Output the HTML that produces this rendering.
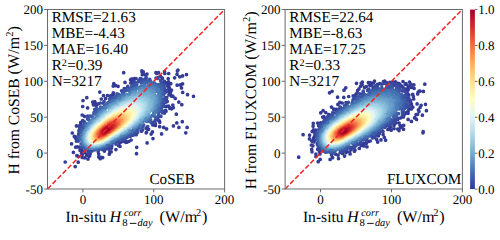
<!DOCTYPE html><html><head><meta charset="utf-8"><style>html,body{margin:0;padding:0;background:#fff;overflow:hidden}svg{display:block;text-rendering:geometricPrecision}</style></head><body><svg width="500" height="234" viewBox="0 0 500 234" font-family="Liberation Serif, serif"><style>text{fill:#000}</style><rect width="500" height="234" fill="#fff"/><defs><clipPath id="c0"><rect x="47.50" y="9.50" width="177.10" height="179.50"/></clipPath><clipPath id="c1"><rect x="285.10" y="9.50" width="177.30" height="179.50"/></clipPath><linearGradient id="cb" x1="0" y1="0" x2="0" y2="1"><stop offset="0.000" stop-color="#a50026"/><stop offset="0.050" stop-color="#bd1726"/><stop offset="0.100" stop-color="#d62f27"/><stop offset="0.150" stop-color="#e54e35"/><stop offset="0.200" stop-color="#f46d43"/><stop offset="0.250" stop-color="#f88c51"/><stop offset="0.300" stop-color="#fdad60"/><stop offset="0.350" stop-color="#fdc778"/><stop offset="0.400" stop-color="#fee090"/><stop offset="0.450" stop-color="#fff0a8"/><stop offset="0.500" stop-color="#fffebe"/><stop offset="0.550" stop-color="#f0f9db"/><stop offset="0.600" stop-color="#e0f3f8"/><stop offset="0.650" stop-color="#c5e6f0"/><stop offset="0.700" stop-color="#aad8e9"/><stop offset="0.750" stop-color="#90c3dd"/><stop offset="0.800" stop-color="#74add1"/><stop offset="0.850" stop-color="#5c90c2"/><stop offset="0.900" stop-color="#4574b3"/><stop offset="0.950" stop-color="#3a54a4"/><stop offset="1.000" stop-color="#313695"/></linearGradient></defs><g clip-path="url(#c0)" fill="none" stroke-width="3.70" stroke-linecap="round"><path stroke="#333b97" d="M193.5 96.3h0M185.8 132.8h0M187.1 127.4h0M65.2 162.0h0M187.5 94.7h0M186.5 74.6h0M182.3 121.7h0M75.2 166.6h0M178.9 127.4h0M136.5 153.7h0M182.6 75.9h0M176.8 122.9h0M178.0 70.0h0M181.8 104.7h0M182.7 92.4h0M173.4 125.9h0M177.4 70.9h0M182.6 83.8h0M78.2 162.2h0M147.1 142.9h0M179.8 76.8h0M181.5 87.9h0M161.6 133.9h0M153.0 138.6h0M123.7 72.7h0M136.7 147.3h0M177.0 74.4h0M180.4 84.9h0M178.8 102.1h0M180.3 84.8h0M166.6 128.9h0M176.3 114.2h0M83.0 100.6h0M86.8 97.7h0M100.2 158.7h0M113.8 83.7h0M177.1 85.2h0M163.7 127.4h0M174.6 77.8h0M76.9 155.7h0M73.4 152.3h0M102.7 157.6h0M78.5 156.6h0M99.8 92.1h0M88.0 159.1h0M175.2 98.4h0M82.7 106.5h0M101.0 157.4h0M151.1 134.1h0M82.2 157.4h0M113.2 86.1h0M84.7 157.8h0M173.3 107.7h0M109.3 154.2h0M168.7 73.5h0M98.7 156.9h0M152.4 131.9h0M115.7 85.6h0M164.5 71.6h0M172.8 105.0h0M141.9 70.9h0M71.6 143.8h0M159.7 126.7h0M171.5 108.8h0M172.8 96.2h0M115.9 149.6h0M111.2 151.8h0M142.0 72.0h0M72.3 133.0h0M164.8 73.5h0M143.3 71.9h0M109.8 152.0h0M89.6 156.1h0M118.1 86.3h0M120.0 146.3h0M169.9 108.4h0M146.2 132.8h0M92.7 102.0h0M82.5 154.2h0M171.3 96.1h0M125.0 82.4h0M86.6 155.3h0M146.5 132.3h0M87.6 107.9h0M103.5 95.6h0M82.2 115.0h0M169.6 107.4h0M171.5 90.1h0M158.5 72.7h0M168.2 78.6h0M170.8 83.7h0M81.5 153.2h0M75.7 147.2h0M155.9 72.6h0M131.3 79.2h0M94.7 101.6h0M76.5 125.9h0M130.5 79.8h0M98.7 154.1h0M118.7 145.7h0M128.8 141.5h0M86.6 154.5h0M126.7 142.2h0M170.6 91.6h0M142.3 74.7h0M170.4 93.1h0M156.8 73.4h0M159.8 122.3h0M131.1 140.0h0M132.8 79.2h0M125.8 142.3h0M155.4 125.5h0M168.6 106.2h0M87.8 154.4h0M74.3 136.3h0M134.5 78.5h0M147.0 74.0h0M82.3 152.5h0M168.5 81.9h0M169.8 93.7h0M148.6 129.3h0M95.2 102.9h0M169.1 84.3h0M168.4 82.5h0M126.5 141.5h0M101.3 99.0h0M107.5 95.5h0M93.4 104.8h0M145.6 74.9h0M80.0 150.3h0M136.0 78.5h0M169.3 87.5h0M90.2 153.8h0M77.4 146.9h0M168.9 94.8h0M155.4 124.2h0M104.4 151.1h0M159.1 121.1h0M166.0 111.2h0M111.5 148.1h0M154.0 125.0h0M133.4 80.4h0M113.3 92.8h0M75.3 137.8h0M159.3 120.8h0M84.4 116.3h0M82.3 151.4h0M168.8 88.9h0M160.4 76.3h0M108.8 149.1h0M147.1 128.7h0M155.2 123.6h0M75.7 136.9h0M80.7 122.7h0M165.6 110.3h0M152.8 125.0h0M164.4 113.1h0M84.7 152.2h0M84.5 152.1h0M166.5 106.4h0M166.8 83.1h0M162.4 78.2h0M167.2 101.4h0M130.8 83.0h0M167.6 86.0h0M136.2 134.7h0M120.2 142.6h0M76.4 140.9h0M158.4 120.2h0M154.9 123.0h0M133.9 81.3h0M166.9 101.4h0M104.5 150.2h0M79.7 125.6h0M122.5 141.5h0M146.6 128.2h0M105.6 98.6h0M110.5 95.8h0M124.6 140.5h0M82.7 120.7h0M81.4 149.7h0M141.5 131.2h0M146.8 128.0h0M167.6 91.3h0M140.2 78.7h0M112.1 95.1h0M146.1 128.2h0M119.2 142.7h0M113.3 94.5h0M79.2 147.0h0M81.0 124.0h0M165.6 82.9h0M96.2 105.5h0M164.4 81.3h0M166.7 97.7h0M98.4 103.8h0M98.2 151.6h0"/><path stroke="#374a9f" d="M115.9 144.1h0M88.6 152.2h0M160.9 116.3h0M77.1 141.0h0M158.0 77.6h0M163.6 111.5h0M136.7 133.5h0M142.6 129.8h0M79.6 127.7h0M165.9 102.1h0M146.3 77.6h0M166.2 98.7h0M100.4 103.0h0M147.7 126.5h0M145.9 77.8h0M163.1 112.2h0M108.0 148.0h0M105.6 149.0h0M154.7 121.7h0M166.5 90.9h0M124.2 88.6h0M141.6 79.2h0M88.7 151.9h0M127.8 86.4h0M138.6 80.6h0M80.9 125.9h0M133.8 83.0h0M133.1 135.2h0M162.4 112.7h0M87.7 116.0h0M140.4 79.9h0M110.4 97.3h0M111.6 145.9h0M111.9 145.8h0M137.6 132.3h0M132.3 84.0h0M153.0 122.4h0M78.9 130.7h0M162.8 111.4h0M156.0 78.1h0M133.6 83.4h0M121.6 90.8h0M165.3 100.1h0M135.0 82.7h0M157.3 78.5h0M162.8 111.0h0M165.9 90.5h0M123.8 139.5h0M159.5 116.3h0M163.1 82.3h0M88.3 151.4h0M130.2 136.3h0M157.3 118.6h0M151.7 123.0h0M117.0 93.8h0M104.0 101.7h0M84.2 121.6h0M165.2 97.5h0M160.6 80.4h0M156.2 119.3h0M79.4 130.4h0M78.2 141.1h0M163.9 106.3h0M155.4 119.9h0M78.0 138.5h0M121.8 140.0h0M126.0 88.6h0M94.8 109.3h0M164.1 84.9h0M102.1 149.4h0M119.2 141.1h0M145.9 79.3h0M139.8 81.3h0M78.7 133.7h0M164.7 99.5h0M140.6 81.0h0M125.7 138.1h0M143.8 79.9h0M123.4 90.6h0M85.0 149.9h0M163.5 106.3h0M164.8 88.8h0M78.8 133.7h0M98.5 150.2h0M165.0 92.8h0M109.6 99.0h0M127.0 137.3h0M91.9 151.1h0M136.7 83.0h0M124.6 89.9h0M163.3 84.5h0M80.6 129.1h0M136.3 83.3h0M78.7 134.8h0M104.9 148.1h0M162.9 84.1h0M164.3 87.5h0M163.5 104.3h0M95.6 109.6h0M103.5 103.2h0M161.4 111.2h0M134.3 132.9h0M163.4 85.5h0M116.7 141.8h0M149.7 79.4h0M96.6 108.7h0M164.4 89.8h0M111.6 98.3h0M143.7 80.7h0M87.5 118.8h0M89.4 150.7h0M109.5 145.8h0"/><path stroke="#3b56a5" d="M117.9 94.7h0M82.0 147.1h0M161.1 111.0h0M89.9 116.1h0M78.9 137.1h0M141.3 128.1h0M131.7 86.4h0M158.6 114.8h0M162.8 85.6h0M137.9 130.3h0M143.8 81.1h0M81.2 129.2h0M79.0 138.0h0M109.9 99.8h0M162.7 85.8h0M114.3 97.3h0M118.8 94.5h0M124.2 91.2h0M150.5 121.8h0M145.1 81.0h0M110.9 99.4h0M95.3 111.0h0M160.9 83.5h0M160.5 111.1h0M141.1 82.3h0M120.0 139.7h0M95.8 110.5h0M162.4 105.5h0M146.7 80.8h0M116.0 96.4h0M161.9 84.9h0M84.0 124.6h0M155.9 117.2h0M134.8 85.3h0M163.3 88.9h0M133.6 86.0h0M94.0 112.6h0M142.0 127.1h0M142.6 126.7h0M136.7 84.4h0M163.2 88.6h0M117.2 95.9h0M132.6 86.6h0M161.1 84.3h0M90.9 116.0h0M85.1 123.2h0M122.7 138.3h0M128.5 135.4h0M163.4 94.9h0M161.3 108.4h0M109.9 144.9h0M162.8 101.3h0M126.3 90.4h0M111.3 144.1h0M124.6 137.3h0M97.4 109.6h0M146.7 81.3h0M119.6 139.6h0M94.4 150.0h0M150.1 80.8h0M130.7 134.0h0M106.9 146.3h0M109.0 145.3h0M147.1 81.3h0M96.7 110.4h0M161.4 85.4h0M140.8 127.5h0M114.6 97.8h0M163.0 93.2h0M97.6 149.4h0M135.2 131.0h0M162.7 99.1h0M100.6 107.1h0M129.6 88.8h0M83.3 147.1h0M112.0 99.5h0M123.6 92.5h0M119.3 139.5h0M79.8 137.1h0M136.0 85.5h0M97.0 110.4h0M88.7 119.4h0M147.0 81.7h0M114.1 142.1h0M160.4 109.0h0M137.8 129.1h0M133.8 131.7h0M125.0 136.7h0M112.9 142.8h0M81.1 143.8h0M93.9 114.0h0M135.1 86.2h0M105.6 146.5h0M158.6 112.2h0M160.0 109.7h0M162.4 90.4h0M103.6 147.3h0M162.5 91.5h0M143.7 82.8h0M86.0 148.7h0M83.6 126.9h0M143.7 125.1h0M100.6 107.7h0M83.0 128.0h0"/><path stroke="#3f62ab" d="M122.5 93.7h0M162.3 92.0h0M146.6 82.2h0M162.1 90.3h0M144.3 82.8h0M80.1 137.2h0M162.1 92.8h0M151.3 82.0h0M107.7 145.3h0M108.1 102.7h0M140.4 126.9h0M161.0 87.3h0M118.9 96.1h0M117.6 96.9h0M81.2 132.6h0M114.6 141.3h0M107.4 145.4h0M107.0 103.5h0M116.1 97.9h0M150.6 119.8h0M119.9 138.6h0M85.6 124.4h0M85.8 124.2h0M104.5 105.3h0M80.3 139.4h0M147.0 82.6h0M130.7 89.2h0M138.7 127.9h0M160.3 86.7h0M158.4 84.5h0M127.5 134.8h0M101.3 107.8h0M158.4 111.3h0M80.4 138.7h0M161.8 93.4h0M122.5 94.2h0M82.6 145.3h0M129.8 133.4h0M154.3 82.9h0M113.4 141.9h0M159.9 86.5h0M98.4 110.5h0M86.3 148.3h0M101.6 107.8h0M107.0 103.8h0M161.6 92.7h0M159.6 108.3h0M92.2 117.0h0M124.8 136.0h0M100.9 147.8h0M95.5 149.1h0M107.3 103.7h0M160.8 89.0h0M148.7 120.8h0M154.0 83.1h0M131.1 89.4h0M129.2 90.5h0M95.8 113.4h0M104.9 146.2h0M126.7 134.9h0M111.2 101.4h0M148.0 121.1h0M160.6 103.5h0M85.8 147.8h0M82.2 144.2h0M126.6 134.9h0M161.3 95.3h0M136.2 87.0h0M161.2 94.2h0M129.0 133.5h0M158.4 110.0h0M82.9 145.1h0M139.2 126.9h0M121.2 95.5h0M85.1 126.2h0M153.9 116.0h0M117.2 98.0h0M112.2 101.1h0M156.4 84.7h0M146.9 121.4h0M160.7 91.6h0M159.5 106.7h0M160.8 97.9h0M82.8 130.5h0M155.5 84.4h0M158.0 86.1h0M120.6 137.6h0M135.8 87.7h0M99.3 110.7h0M97.4 148.3h0M158.1 109.8h0"/><path stroke="#4471b2" d="M150.5 83.7h0M112.2 101.4h0M160.4 92.4h0M103.1 107.7h0M81.2 136.6h0M144.4 84.7h0M133.1 89.2h0M160.5 95.9h0M95.9 148.5h0M113.8 100.6h0M157.7 109.9h0M113.1 101.0h0M86.0 125.6h0M134.1 129.8h0M160.3 99.2h0M110.8 142.7h0M103.2 146.4h0M160.2 100.2h0M105.3 145.5h0M86.8 147.8h0M134.3 88.8h0M141.3 85.8h0M157.4 110.2h0M81.5 135.9h0M96.4 148.3h0M160.1 99.2h0M131.7 131.2h0M116.0 139.5h0M133.2 130.2h0M120.3 96.9h0M160.1 96.5h0M81.4 137.3h0M139.9 125.7h0M103.5 107.9h0M122.6 95.6h0M89.3 148.4h0M113.7 140.7h0M104.4 145.8h0M137.8 87.5h0M131.4 90.6h0M81.6 140.1h0M154.6 85.3h0M141.0 86.3h0M137.1 87.9h0M86.5 125.5h0M125.9 134.4h0M111.7 141.9h0M157.5 87.5h0M152.0 84.9h0M124.4 135.1h0M159.8 96.0h0M159.8 95.1h0M154.1 114.1h0M157.7 87.9h0M155.9 86.3h0M155.7 112.1h0M112.4 102.0h0M125.3 134.6h0M104.3 107.6h0M159.6 99.8h0M158.6 106.0h0M83.1 144.0h0M118.2 98.6h0M124.2 95.0h0M101.1 146.8h0M143.8 85.9h0M139.4 87.3h0M103.2 108.5h0M159.5 99.2h0M158.8 104.5h0M140.5 86.9h0M128.9 132.5h0M120.4 97.4h0M137.8 88.0h0M155.6 86.6h0M159.4 93.9h0M153.9 85.8h0M81.7 137.3h0M104.6 107.6h0M99.0 112.3h0M87.2 147.4h0M85.5 127.5h0M159.4 96.3h0M152.3 115.5h0M148.6 85.3h0M140.8 124.5h0M85.9 126.9h0M149.1 118.3h0M159.0 92.4h0M134.9 89.5h0M158.6 91.2h0M113.4 101.8h0M122.6 135.8h0M148.2 85.5h0M150.6 116.9h0M159.3 97.2h0M124.5 134.8h0M121.7 96.8h0M139.9 87.5h0M141.8 86.9h0M104.5 107.9h0M88.8 123.2h0"/><path stroke="#4b7db8" d="M155.1 111.9h0M157.8 89.8h0M114.6 101.2h0M109.5 142.8h0M83.5 144.0h0M122.2 135.8h0M158.3 91.6h0M152.1 86.1h0M99.7 112.3h0M155.2 87.5h0M123.0 96.4h0M104.4 145.2h0M147.2 119.3h0M157.8 105.7h0M157.7 105.6h0M128.4 132.3h0M138.9 88.4h0M90.4 121.8h0M154.6 111.9h0M156.1 88.7h0M158.5 95.0h0M101.5 110.8h0M111.1 141.6h0M157.0 89.9h0M154.3 112.2h0M119.3 98.7h0M153.6 113.1h0M91.4 120.8h0M134.7 128.1h0M145.4 120.5h0M109.5 142.5h0M155.5 88.2h0M146.0 120.0h0M98.5 113.7h0M144.9 86.8h0M158.5 99.0h0M157.7 104.8h0M145.5 86.8h0M130.1 131.1h0M149.6 86.5h0M141.6 123.2h0M158.5 97.1h0M155.1 110.9h0M143.7 87.2h0M106.2 107.3h0M114.7 139.3h0M96.9 115.4h0M83.0 142.2h0M126.7 94.6h0M146.5 86.8h0M125.6 133.6h0M154.4 111.7h0M158.4 98.3h0M94.4 118.0h0M120.4 98.3h0M158.0 102.8h0M107.1 106.8h0M113.1 140.1h0M105.0 108.3h0M135.3 90.3h0M151.3 87.0h0M105.5 108.0h0M156.6 90.4h0M151.0 87.0h0M143.6 87.5h0M117.8 137.6h0M110.6 141.7h0M127.9 132.2h0M124.5 96.0h0M116.1 101.0h0M119.3 99.1h0M132.8 91.6h0M135.6 90.3h0M102.4 110.6h0M126.4 95.0h0M156.0 90.0h0M156.7 106.7h0M157.7 102.7h0M145.1 87.4h0M129.4 131.2h0M153.2 87.9h0M158.0 99.3h0M93.0 119.7h0M155.5 109.4h0M112.2 103.6h0M146.4 87.3h0M154.3 88.6h0M157.9 99.0h0M83.4 142.6h0M89.2 123.9h0M83.8 132.4h0M121.3 98.1h0M129.8 93.3h0M157.8 100.5h0M91.3 147.7h0M124.5 96.3h0M143.0 88.0h0M142.9 121.7h0M120.6 136.0h0M126.1 133.0h0M155.2 89.7h0M141.7 88.5h0M90.1 123.0h0M123.9 134.2h0M156.3 91.4h0M149.3 116.5h0M111.4 104.3h0"/><path stroke="#5588be" d="M119.2 136.7h0M84.5 144.1h0M136.3 126.3h0M128.8 131.3h0M152.9 88.5h0M99.3 146.6h0M86.1 145.7h0M88.6 124.9h0M112.7 103.5h0M132.2 92.5h0M141.8 88.7h0M93.8 147.6h0M141.2 122.7h0M157.3 96.0h0M125.3 133.3h0M146.6 87.9h0M93.3 147.6h0M82.8 137.9h0M91.8 121.5h0M83.5 142.1h0M109.0 106.2h0M84.7 131.0h0M140.5 89.3h0M87.1 127.1h0M157.3 100.2h0M83.5 134.2h0M83.9 142.7h0M151.8 88.7h0M90.2 147.3h0M155.6 107.4h0M111.7 104.6h0M146.9 118.0h0M117.8 100.8h0M83.8 133.4h0M90.9 147.4h0M102.9 111.2h0M97.1 146.9h0M154.3 90.7h0M143.6 88.9h0M101.2 112.7h0M141.0 89.6h0M99.3 146.3h0M93.0 120.6h0M126.4 96.0h0M117.6 101.1h0M94.7 119.0h0M99.8 114.0h0M151.7 89.4h0M83.1 139.1h0M156.6 101.9h0M88.2 126.2h0M129.1 94.7h0M133.7 127.5h0M144.4 119.6h0M156.6 101.2h0M129.3 94.6h0M126.5 132.2h0M103.2 144.8h0M94.4 119.5h0M156.6 98.3h0M156.5 98.5h0M103.9 110.7h0M145.4 118.6h0M154.2 91.8h0M92.6 121.4h0M154.5 108.2h0M84.0 134.0h0M149.3 89.4h0M155.5 105.6h0M89.5 146.9h0M94.2 147.1h0M153.1 91.0h0M92.7 121.4h0"/><path stroke="#6095c4" d="M84.8 132.1h0M141.2 121.8h0M146.3 89.5h0M97.6 146.5h0M142.3 90.0h0M107.8 142.5h0M156.0 102.4h0M114.7 138.3h0M100.5 145.7h0M133.6 93.0h0M102.6 144.9h0M156.0 97.8h0M134.4 92.7h0M151.5 90.5h0M137.3 124.6h0M100.2 114.3h0M85.2 131.5h0M154.0 92.5h0M123.1 98.4h0M104.0 111.0h0M99.2 146.0h0M83.5 137.4h0M148.8 89.9h0M153.9 92.7h0M91.5 147.0h0M99.2 115.3h0M88.4 146.3h0M101.4 113.3h0M103.0 144.7h0M83.5 138.4h0M139.5 91.1h0M153.1 92.1h0M86.6 129.2h0M133.9 93.2h0M149.9 90.4h0M112.4 105.0h0M102.9 144.7h0M127.7 96.1h0M108.5 141.9h0M100.8 114.0h0M88.9 146.4h0M87.9 146.0h0M155.7 99.4h0M150.6 90.7h0M148.8 114.9h0M118.5 101.3h0M115.1 103.4h0M90.5 124.2h0M93.1 121.5h0M147.8 115.8h0M84.2 141.7h0M154.4 94.6h0M84.7 142.7h0M101.6 145.1h0M100.1 145.6h0M148.4 90.5h0M126.6 96.9h0M109.1 107.5h0M153.6 108.2h0M84.4 134.2h0M137.3 124.2h0M154.2 106.5h0M99.1 145.9h0M111.5 105.8h0M86.0 144.4h0M149.0 90.8h0M133.3 127.1h0M135.7 92.8h0M144.3 90.6h0M102.3 112.9h0M153.4 93.5h0M152.2 110.3h0M147.9 115.4h0M111.7 105.8h0M86.7 129.6h0M135.5 93.0h0M152.9 93.4h0M127.2 131.0h0M115.1 137.7h0M116.8 102.7h0M125.2 132.2h0M150.5 91.9h0M86.9 144.9h0M152.7 93.5h0M140.8 91.6h0M85.3 132.4h0M124.6 98.3h0M84.0 139.5h0M154.7 98.0h0M91.4 146.7h0M83.9 138.3h0M98.7 145.8h0M119.2 101.5h0M91.4 123.7h0M92.2 146.7h0M88.1 145.7h0"/><path stroke="#69a0ca" d="M134.5 125.9h0M154.3 96.9h0M142.3 91.5h0M125.1 132.1h0M134.6 125.8h0M154.1 96.5h0M123.2 133.2h0M126.3 97.6h0M94.1 121.1h0M153.1 94.8h0M154.5 102.9h0M107.4 142.1h0M154.6 99.7h0M95.6 146.4h0M114.0 104.7h0M146.4 91.6h0M123.6 99.2h0M87.2 145.0h0M152.5 108.6h0M134.8 125.5h0M89.1 126.7h0M139.3 92.6h0M154.2 99.0h0M126.9 130.8h0M139.5 121.9h0M148.8 92.3h0M143.6 91.9h0M141.2 92.2h0M152.3 108.6h0M84.3 140.0h0M138.6 92.8h0M84.2 136.9h0M147.2 115.1h0M116.8 136.5h0M153.5 96.9h0M117.4 102.9h0M154.0 98.9h0M148.6 92.5h0M153.8 103.7h0M109.5 140.8h0M147.6 114.6h0M108.0 141.7h0M139.7 121.5h0M142.8 92.3h0M150.8 93.8h0M144.7 92.2h0M150.9 110.4h0M92.8 122.9h0M93.5 146.5h0M121.0 101.0h0M153.7 98.8h0M105.2 111.5h0M109.7 108.1h0M91.0 146.3h0M100.3 145.0h0M123.2 99.9h0M137.6 93.6h0M85.4 133.4h0M87.5 144.8h0M134.2 94.7h0M153.4 99.0h0M141.8 119.6h0M96.2 119.8h0M139.0 121.8h0M86.5 143.8h0M87.3 144.6h0M138.7 122.0h0M153.4 103.5h0M143.5 92.7h0M109.9 108.1h0M153.5 101.8h0M133.4 95.1h0M152.1 96.3h0M97.6 118.5h0M88.1 145.1h0M148.3 93.4h0M121.0 133.9h0M112.3 138.7h0M126.7 98.2h0M94.3 146.3h0M151.7 95.8h0M98.2 118.0h0M87.2 144.4h0M88.2 128.6h0M106.7 142.2h0M152.0 107.4h0M116.0 136.6h0M147.3 114.2h0M140.7 93.2h0"/><path stroke="#72abd0" d="M149.2 111.9h0M152.7 98.0h0M137.3 123.0h0M98.7 145.4h0M84.7 136.5h0M151.2 95.8h0M99.6 145.1h0M148.0 93.7h0M125.8 131.0h0M148.8 112.2h0M100.3 116.2h0M132.2 95.9h0M136.4 123.6h0M84.7 136.8h0M137.2 122.9h0M152.8 99.6h0M148.5 94.1h0M127.6 98.0h0M89.2 145.5h0M101.2 115.4h0M148.7 94.3h0M137.4 122.7h0M151.4 96.6h0M129.8 128.3h0M152.7 99.8h0M148.2 112.7h0M135.2 95.0h0M118.2 103.2h0M151.0 108.5h0M112.9 106.5h0M84.7 137.2h0M152.4 104.7h0M141.7 93.6h0M149.3 111.1h0M104.3 143.2h0M149.8 95.3h0M111.8 107.3h0M85.3 141.5h0M139.9 120.6h0M151.8 106.4h0M103.7 113.4h0M149.3 95.2h0M151.8 98.0h0M124.7 131.5h0M132.7 96.1h0M140.3 94.0h0M86.4 132.1h0M109.2 109.2h0M92.7 146.1h0M91.5 146.0h0M126.2 99.0h0M118.4 103.3h0M106.6 142.0h0M135.2 124.1h0M105.0 112.5h0M84.9 137.3h0M85.1 140.4h0M145.5 94.2h0M105.3 112.3h0M94.4 146.0h0M152.0 100.2h0M141.9 94.1h0M137.6 122.2h0M152.0 104.3h0M117.9 103.7h0M142.4 94.1h0M151.7 99.0h0M150.7 97.4h0M148.9 111.0h0M146.3 94.6h0M122.6 132.6h0M115.3 105.3h0M125.7 99.5h0M141.6 118.7h0M137.6 95.0h0M133.8 96.1h0M136.4 123.0h0M150.9 107.0h0M149.5 96.5h0M95.0 121.9h0M151.7 104.0h0M142.3 118.0h0M85.0 138.6h0M116.2 136.1h0M143.2 117.1h0M151.3 105.3h0M86.2 133.1h0M149.2 96.6h0M114.9 105.8h0M103.6 114.1h0M138.9 95.0h0M97.7 145.3h0"/><path stroke="#7fb6d6" d="M141.1 94.7h0M150.8 106.7h0M151.0 105.9h0M151.6 102.2h0M148.7 110.6h0M126.4 130.1h0M138.1 95.2h0M109.6 109.4h0M88.9 144.9h0M93.7 145.8h0M144.7 115.4h0M122.2 132.6h0M94.6 145.8h0M102.7 115.0h0M117.2 135.4h0M131.5 97.3h0M115.9 136.1h0M102.9 143.4h0M91.9 125.3h0M147.9 111.4h0M105.1 113.0h0M135.0 123.7h0M148.2 96.6h0M151.2 102.8h0M151.3 102.6h0M86.1 141.9h0M151.1 104.0h0M86.0 141.7h0M147.7 111.6h0M110.8 108.8h0M151.1 102.3h0M145.6 114.1h0M135.2 123.5h0M101.6 116.1h0M96.8 145.4h0M135.1 123.6h0M147.1 112.3h0M89.7 145.1h0M118.3 134.7h0M113.6 107.0h0M148.6 110.0h0M112.1 138.1h0M113.0 107.4h0M120.8 102.8h0M146.6 112.7h0M88.8 129.3h0M146.4 112.9h0M106.0 112.5h0M142.5 117.1h0M98.6 144.8h0M85.4 137.8h0M107.5 141.0h0M145.0 114.4h0M129.0 98.7h0M92.5 145.6h0M125.2 100.5h0M85.9 141.1h0M85.9 141.2h0M86.0 134.7h0M95.9 145.4h0M123.4 101.5h0M138.0 121.0h0M150.5 101.7h0M144.8 96.1h0M94.0 123.4h0M141.7 95.7h0M150.1 105.8h0M138.7 96.0h0M150.4 102.3h0M149.8 100.2h0M96.0 121.6h0M104.0 142.7h0M90.9 126.9h0M119.1 103.9h0M149.7 106.7h0M115.5 106.1h0M106.2 112.6h0M88.5 144.2h0M115.1 106.3h0M150.2 104.0h0M132.7 125.1h0M130.6 126.6h0M145.5 96.7h0M144.3 114.8h0M149.4 107.1h0M131.8 125.8h0M147.5 97.7h0M141.5 96.0h0M150.0 101.3h0M124.5 130.8h0M90.0 128.0h0M148.3 109.4h0M102.5 115.8h0M133.7 124.3h0M149.3 107.4h0M97.9 120.0h0M106.3 141.5h0M141.1 118.0h0M146.9 97.6h0M90.3 145.1h0M138.8 96.3h0M97.7 144.9h0M143.2 96.4h0M149.5 100.6h0M117.6 105.0h0"/><path stroke="#8abeda" d="M103.7 142.8h0M102.8 115.6h0M127.0 100.1h0M133.8 97.5h0M148.7 107.9h0M92.4 145.4h0M90.5 127.6h0M149.4 105.9h0M129.9 98.9h0M148.1 109.2h0M105.3 113.6h0M100.1 144.1h0M119.0 104.3h0M132.7 98.0h0M113.6 107.6h0M130.5 98.8h0M131.0 126.1h0M127.2 100.2h0M145.6 112.7h0M98.5 119.7h0M100.3 144.1h0M87.6 143.2h0M105.6 141.7h0M102.9 143.0h0M139.4 96.7h0M96.9 121.2h0M138.4 96.8h0M95.1 122.9h0M148.4 100.1h0M97.8 144.8h0M104.4 142.3h0M149.4 104.1h0M147.5 109.8h0M137.6 120.7h0M145.7 98.0h0M145.4 112.8h0M131.7 125.5h0M130.2 99.1h0M147.9 99.8h0M149.1 104.6h0M109.9 139.1h0M137.4 120.7h0M135.0 97.7h0M144.7 97.9h0M118.8 104.8h0M136.8 97.4h0M117.5 134.5h0M86.1 140.0h0M148.7 105.7h0M119.5 104.4h0M86.5 141.0h0M97.6 144.7h0M143.4 114.8h0M139.9 97.2h0M131.6 98.8h0M111.4 138.0h0M87.1 142.2h0M123.6 102.3h0M138.7 97.3h0M140.8 97.4h0M137.4 97.5h0M135.4 122.3h0M147.4 108.9h0M128.0 100.3h0M130.0 99.5h0M148.6 103.1h0M99.2 119.4h0M96.0 122.4h0M102.7 116.3h0M100.8 143.7h0M91.1 144.9h0M134.5 123.0h0M137.5 97.6h0M147.1 100.1h0M93.0 145.2h0M136.7 121.1h0M107.0 112.8h0M88.7 130.7h0M147.4 108.5h0M143.1 114.8h0M135.2 98.1h0M91.8 126.8h0M135.7 98.0h0M139.6 97.6h0M148.4 103.4h0M148.4 103.8h0M140.6 97.7h0M101.4 143.4h0M87.5 132.8h0M137.3 97.9h0"/><path stroke="#94c7df" d="M110.7 138.4h0M99.4 119.4h0M113.2 136.8h0M115.4 107.1h0M144.0 98.6h0M144.5 98.9h0M116.4 106.5h0M114.6 136.0h0M97.3 121.4h0M86.2 138.2h0M107.3 140.5h0M87.6 142.6h0M146.9 108.9h0M145.9 100.0h0M113.1 108.7h0M121.2 103.9h0M137.4 120.2h0M105.8 141.3h0M97.8 121.0h0M89.4 144.0h0M128.9 127.1h0M146.6 109.2h0M109.3 139.2h0M103.4 116.1h0M101.6 117.6h0M140.9 98.1h0M147.6 106.4h0M144.9 99.5h0M146.7 109.0h0M110.5 110.5h0M144.3 99.2h0M101.6 117.6h0M135.6 98.5h0M88.1 132.0h0M140.8 98.3h0M144.3 99.3h0M128.8 127.1h0M97.7 144.4h0M87.0 141.4h0M137.6 98.3h0M140.8 116.8h0M111.7 109.8h0M146.6 108.9h0M128.6 127.2h0M143.1 114.2h0M115.8 107.2h0M117.3 134.3h0M145.1 100.0h0M122.9 103.3h0M143.6 99.3h0M109.7 138.8h0M131.8 99.6h0M131.6 99.7h0M132.6 99.4h0M146.7 107.9h0M142.4 99.1h0M88.1 132.3h0M130.7 125.4h0M97.3 144.4h0M144.2 112.3h0M101.4 118.1h0M110.1 111.1h0M134.2 99.2h0M109.7 111.4h0M86.5 138.9h0M142.8 99.4h0M141.2 116.1h0M93.0 125.9h0M88.6 143.2h0M105.6 114.5h0M119.9 132.6h0M129.8 126.1h0M147.0 105.6h0M127.9 127.5h0M140.5 116.8h0M86.6 137.0h0M133.3 123.3h0M146.5 102.6h0M91.9 127.3h0M142.9 113.9h0M145.3 101.2h0M146.5 103.2h0M100.1 119.4h0M146.3 107.7h0M146.4 103.0h0M131.4 124.8h0M146.2 102.5h0M146.5 107.0h0M133.7 99.5h0M144.8 101.0h0M86.7 139.4h0M145.9 108.8h0M146.3 102.8h0M141.5 115.4h0M112.1 109.9h0M134.9 121.8h0M141.1 115.9h0M141.6 99.4h0M122.6 130.9h0M113.9 108.8h0M102.6 117.3h0M98.4 121.0h0M88.0 133.0h0M88.8 131.5h0M122.8 103.7h0M142.9 113.6h0M109.4 111.9h0M102.0 142.8h0M112.8 136.6h0"/><path stroke="#a1d1e5" d="M114.0 135.9h0M138.5 99.2h0M111.0 110.8h0M100.1 119.6h0M136.4 99.3h0M90.3 144.1h0M120.2 105.2h0M88.1 142.4h0M87.0 135.9h0M123.4 103.6h0M115.6 135.0h0M105.9 114.7h0M146.1 103.9h0M88.6 142.8h0M97.4 122.1h0M128.8 126.5h0M145.5 102.7h0M92.0 144.5h0M131.3 100.5h0M142.5 100.4h0M125.1 102.9h0M92.6 144.6h0M135.3 121.2h0M135.7 99.7h0M141.6 100.1h0M133.8 100.0h0M115.9 107.8h0M105.3 115.3h0M129.9 125.6h0M104.5 115.9h0M128.9 101.4h0M92.9 126.6h0M105.0 115.5h0M131.9 123.9h0M141.3 115.0h0M95.0 144.5h0M110.1 138.2h0M144.4 102.1h0M126.0 102.6h0M88.2 133.1h0M119.4 132.6h0M145.3 103.4h0M98.5 143.9h0M100.7 143.2h0M145.0 103.0h0M129.6 101.3h0M143.6 111.6h0M140.6 100.3h0M142.8 101.1h0M145.6 105.1h0M116.7 134.2h0M137.5 100.0h0M138.1 100.0h0M122.2 104.5h0M125.8 102.9h0M107.0 114.1h0M137.0 119.3h0M97.8 144.0h0M87.5 135.0h0M88.5 142.3h0M144.6 109.2h0M105.4 115.4h0M140.9 115.1h0M123.2 104.1h0M87.0 138.7h0M107.5 113.9h0M96.5 144.2h0M137.1 119.1h0M105.0 115.9h0M94.6 144.5h0M95.8 124.0h0M124.0 129.5h0M87.4 140.5h0M105.8 140.7h0M106.1 140.5h0M119.6 132.3h0M142.1 101.4h0M133.6 122.3h0M144.9 108.0h0M122.7 104.5h0M137.1 100.3h0M145.0 107.1h0M127.1 102.6h0M99.9 120.3h0M87.3 135.9h0M132.7 100.9h0"/><path stroke="#acdae9" d="M115.0 135.0h0M141.8 113.6h0M92.6 127.3h0M101.5 142.7h0M90.3 143.6h0M107.1 139.9h0M128.4 126.3h0M136.3 100.6h0M114.1 135.5h0M132.5 123.0h0M94.8 144.3h0M105.8 115.4h0M137.1 100.7h0M125.6 128.3h0M116.8 107.8h0M109.0 138.7h0M136.9 100.7h0M94.8 125.2h0M143.7 103.5h0M97.4 143.9h0M110.7 111.8h0M130.5 124.6h0M129.3 125.5h0M123.8 104.2h0M125.7 128.2h0M138.0 117.7h0M88.0 134.5h0M127.8 102.6h0M113.9 135.5h0M141.5 113.5h0M103.0 141.9h0M115.8 108.5h0M104.1 116.9h0M144.3 105.7h0M138.3 101.1h0M129.2 125.5h0M102.1 118.7h0M90.1 143.3h0M111.3 111.5h0M141.5 113.5h0M125.6 103.6h0M114.1 135.3h0M87.7 135.4h0M87.8 140.6h0M121.6 105.5h0M114.5 135.1h0M141.0 102.1h0M93.4 126.9h0M143.3 110.0h0M139.4 101.6h0M143.8 105.0h0M131.9 123.2h0M142.1 103.0h0M114.4 109.6h0M135.3 120.1h0M102.8 141.9h0M122.5 105.2h0M143.8 107.1h0M108.5 113.7h0M131.9 123.1h0M95.2 144.1h0M143.2 104.4h0M99.8 120.9h0M142.7 103.8h0M101.4 119.5h0M128.3 126.0h0M99.6 121.1h0M121.6 105.7h0M133.8 101.6h0M105.2 140.7h0M117.6 133.1h0M98.5 122.1h0M117.5 107.9h0M121.7 105.7h0M87.5 138.0h0M139.2 102.0h0M112.0 111.3h0M135.8 101.6h0M91.5 129.2h0M89.8 131.6h0M124.8 128.5h0M143.5 106.6h0M141.0 102.8h0M138.9 116.1h0M137.7 117.5h0M134.5 101.7h0M108.0 139.0h0M117.7 133.0h0M89.4 132.3h0"/><path stroke="#b6dfec" d="M87.8 139.7h0M142.4 110.7h0M136.1 101.7h0M122.4 105.5h0M125.0 128.3h0M132.5 102.1h0M88.9 133.3h0M124.5 128.6h0M95.4 144.0h0M119.0 132.2h0M120.8 106.3h0M88.1 135.4h0M139.7 102.6h0M142.2 104.3h0M140.1 102.8h0M88.5 141.2h0M134.7 101.9h0M117.3 108.2h0M139.8 102.7h0M129.6 124.8h0M117.6 133.0h0M136.7 118.3h0M140.6 103.2h0M130.9 123.6h0M141.7 111.5h0M94.6 144.0h0M121.8 105.9h0M113.1 110.9h0M129.7 102.9h0M127.5 103.6h0M96.9 123.9h0M142.8 107.1h0M139.8 103.0h0M89.5 132.6h0M130.9 102.7h0M137.6 102.5h0M102.7 141.7h0M88.1 140.1h0M137.4 102.5h0M90.9 143.2h0M142.4 108.8h0M103.5 118.2h0M128.7 103.4h0M133.0 121.6h0M98.4 122.6h0M92.9 143.8h0M109.4 113.6h0M142.5 107.1h0M92.3 128.8h0M129.8 124.3h0M139.1 103.2h0M102.0 119.5h0M134.9 119.7h0M126.7 126.7h0M139.3 103.4h0M96.9 124.1h0M106.7 115.8h0M141.7 110.3h0M121.9 130.0h0M139.6 114.2h0M141.6 105.5h0M88.6 134.8h0M99.0 122.3h0M142.1 107.9h0M124.6 105.1h0M104.8 140.6h0M108.0 138.7h0M96.5 124.6h0M110.9 112.7h0M115.4 109.8h0M137.2 117.0h0M92.7 128.6h0M121.0 106.8h0M141.9 107.5h0M97.8 123.4h0M88.7 134.7h0M103.6 118.3h0M105.6 116.8h0M89.2 133.6h0M114.6 134.5h0M141.2 105.4h0M139.8 104.2h0"/><path stroke="#c3e5f0" d="M91.2 130.4h0M115.7 109.7h0M129.6 103.6h0M133.3 103.0h0M137.5 116.5h0M118.3 132.2h0M91.0 130.8h0M140.7 105.3h0M93.1 128.2h0M121.7 130.0h0M91.6 143.3h0M100.6 142.4h0M137.7 103.5h0M139.9 104.6h0M88.4 136.0h0M132.1 121.9h0M89.6 133.0h0M134.8 119.4h0M125.7 127.1h0M97.8 123.6h0M91.6 143.2h0M118.4 108.4h0M114.3 110.8h0M129.1 124.5h0M111.7 136.0h0M139.5 113.4h0M109.0 114.4h0M106.5 116.3h0M126.8 104.7h0M88.3 137.3h0M130.7 103.7h0M130.5 103.8h0M108.3 115.0h0M91.8 143.2h0M139.4 113.4h0M132.7 103.6h0M89.9 132.8h0M138.6 104.6h0M137.6 104.1h0M139.9 105.6h0M129.9 104.1h0M130.2 104.0h0M136.7 103.9h0M92.9 143.4h0M131.2 122.4h0M131.7 122.0h0M139.1 113.6h0M140.0 105.8h0M128.0 104.6h0M88.5 136.6h0M131.3 122.3h0M140.5 110.4h0M97.0 124.6h0M129.3 104.3h0M140.3 106.7h0M90.8 131.5h0M134.3 103.8h0M90.3 142.2h0M129.7 104.3h0M131.3 104.0h0M129.5 123.8h0M117.1 132.7h0M130.8 122.7h0M140.6 109.0h0M125.8 105.4h0M140.3 107.0h0M123.3 106.5h0M137.5 104.6h0M124.2 127.9h0M140.1 110.8h0M137.9 115.0h0"/><path stroke="#cdeaf3" d="M138.8 105.5h0M137.6 115.4h0M138.7 105.4h0M138.3 105.2h0M125.2 105.8h0M137.8 115.1h0M120.6 130.3h0M88.6 138.6h0M89.9 133.2h0M128.5 124.5h0M139.8 111.2h0M120.9 107.7h0M121.7 129.6h0M125.4 105.8h0M140.0 110.5h0M107.6 115.9h0M140.1 108.2h0M113.0 112.1h0M128.7 104.8h0M94.4 127.4h0M129.6 123.5h0M136.3 116.9h0M98.1 142.8h0M131.2 104.4h0M124.6 127.5h0M132.4 104.3h0M130.3 122.9h0M128.6 104.9h0M136.5 104.8h0M126.3 105.6h0M131.6 121.6h0M137.8 105.5h0M137.4 115.2h0M126.9 105.5h0M102.6 120.0h0M96.5 125.4h0M134.8 104.5h0M137.6 105.4h0M139.8 108.7h0M124.0 106.5h0M108.6 137.8h0M108.9 115.1h0M103.0 141.0h0M123.2 128.4h0M106.2 139.3h0M134.3 118.8h0M106.1 117.2h0M112.6 135.1h0M89.2 140.3h0M136.2 105.1h0M131.7 121.4h0M103.5 119.4h0M94.5 143.2h0M106.1 139.3h0M126.0 106.0h0M133.8 104.8h0M129.3 123.5h0M129.7 105.1h0M122.1 107.5h0M110.2 114.3h0M127.6 105.6h0M114.6 111.5h0M137.3 105.9h0M131.9 121.1h0M88.9 138.6h0M127.9 105.6h0M110.9 136.0h0M138.4 112.6h0M128.4 105.5h0M88.9 138.3h0M136.2 105.6h0M90.0 141.2h0M116.9 110.2h0M119.2 109.0h0M129.3 105.3h0M90.5 132.9h0M119.4 109.0h0"/><path stroke="#d8eff6" d="M136.2 116.1h0M134.2 105.2h0M115.4 111.2h0M132.7 105.1h0M138.6 111.6h0M136.9 106.3h0M90.2 141.3h0M117.0 132.3h0M138.4 107.7h0M114.1 112.1h0M130.4 105.4h0M121.1 108.3h0M127.7 124.6h0M133.3 105.3h0M93.1 129.5h0M89.1 136.8h0M138.4 111.6h0M95.3 127.1h0M103.5 140.5h0M96.2 126.2h0M131.1 105.4h0M130.9 121.7h0M106.9 117.1h0M138.6 110.5h0M95.7 126.7h0M118.6 109.6h0M136.4 106.4h0M136.2 106.4h0M102.6 140.9h0M129.3 105.8h0M89.9 140.6h0M137.1 107.0h0M126.3 125.6h0M136.2 115.5h0M134.4 105.9h0M115.8 111.2h0M109.8 115.1h0M98.3 124.4h0M119.1 109.5h0M134.9 117.2h0M91.3 132.1h0M134.9 106.1h0M117.6 110.3h0M125.9 106.7h0M123.9 127.4h0M91.9 131.3h0M134.0 118.2h0M100.0 141.8h0M131.0 121.3h0M123.1 107.8h0M89.8 135.0h0M91.9 142.3h0M104.1 119.5h0M118.7 131.0h0M133.5 118.7h0M108.8 137.2h0M136.8 107.5h0M103.6 140.3h0M89.4 137.0h0M137.8 109.6h0M132.3 119.8h0M107.0 117.3h0M112.4 113.5h0M131.5 106.1h0M137.6 109.1h0"/><path stroke="#e2f4f4" d="M120.1 129.9h0M94.9 142.8h0M134.2 106.4h0M136.9 113.5h0M133.9 118.0h0M131.9 106.2h0M134.5 117.2h0M130.4 106.2h0M89.5 137.1h0M98.4 142.2h0M137.5 111.4h0M102.8 120.8h0M92.6 130.7h0M90.6 141.0h0M90.2 140.5h0M135.6 107.4h0M123.4 108.0h0M92.1 142.1h0M117.5 110.8h0M130.1 121.8h0M127.8 106.8h0M96.1 126.9h0M127.6 106.9h0M132.6 106.5h0M121.1 129.1h0M129.0 122.8h0M108.0 137.5h0M89.9 135.7h0M90.6 133.9h0M115.3 112.0h0M120.6 109.3h0M126.3 125.1h0M134.5 107.2h0M114.6 133.3h0M89.6 138.3h0M136.1 114.2h0M135.9 114.6h0M134.1 117.2h0M136.5 108.7h0M135.2 107.6h0M97.3 125.8h0M109.2 116.1h0M129.1 106.8h0M98.1 142.2h0M137.0 110.6h0M135.5 107.9h0M135.9 108.3h0M124.2 108.1h0M113.1 134.1h0M136.8 111.7h0M134.7 116.2h0M136.2 108.9h0M105.8 138.8h0M135.9 113.9h0M116.3 111.7h0M94.7 142.5h0M113.5 133.8h0M97.9 125.4h0M93.5 142.4h0M135.4 108.4h0M110.2 115.6h0M128.6 122.8h0M116.3 132.0h0M112.6 114.0h0M89.9 137.1h0"/><path stroke="#e9f6e8" d="M107.8 117.3h0M127.5 107.4h0M126.1 125.0h0M120.2 129.5h0M136.4 111.7h0M117.1 131.5h0M122.6 108.9h0M131.9 107.2h0M96.6 142.4h0M128.4 122.9h0M136.0 113.0h0M92.7 142.1h0M93.8 142.4h0M133.0 118.1h0M120.3 109.9h0M104.0 139.7h0M95.7 127.8h0M94.9 128.6h0M131.5 119.7h0M125.5 125.4h0M91.9 132.4h0M112.8 114.0h0M133.9 108.0h0M128.7 122.5h0M133.7 108.0h0M134.1 116.4h0M132.9 118.0h0M129.9 107.4h0M134.8 108.7h0M90.6 135.0h0M98.6 125.1h0M110.9 115.3h0M135.6 109.7h0M90.3 136.0h0M106.4 118.6h0M135.9 111.5h0M131.8 119.1h0M100.0 123.9h0M134.8 115.0h0M135.7 112.4h0M97.5 126.2h0M126.7 108.0h0M108.7 136.7h0M129.4 121.7h0M120.0 129.3h0M114.5 133.0h0M120.9 110.0h0M134.6 115.1h0M135.5 110.6h0M90.2 137.2h0M117.2 111.8h0M93.6 130.4h0M135.1 109.9h0M119.0 130.0h0M123.3 109.1h0M109.5 116.5h0M112.8 134.0h0M101.9 122.4h0M97.8 126.0h0M132.5 108.3h0M130.3 107.9h0M134.6 109.5h0M128.2 122.6h0M120.9 128.6h0M133.8 116.0h0M130.5 120.3h0M135.4 111.7h0M93.6 142.0h0M120.6 110.3h0M125.3 108.6h0M111.8 115.1h0M131.2 119.5h0M135.2 111.3h0"/><path stroke="#eff9dd" d="M100.4 123.7h0M98.8 125.1h0M101.5 122.8h0M135.1 112.7h0M108.8 117.1h0M128.9 108.1h0M112.2 134.3h0M128.9 108.1h0M97.8 126.1h0M93.7 130.5h0M109.4 116.7h0M95.9 128.0h0M104.2 120.6h0M134.6 114.1h0M121.1 110.2h0M92.2 141.3h0M122.2 109.8h0M134.7 113.7h0M114.3 113.6h0M90.4 137.0h0M90.8 139.7h0M132.8 109.0h0M99.6 141.3h0M94.3 142.0h0M110.9 115.8h0M121.8 110.0h0M122.3 127.4h0M113.3 133.5h0M115.1 132.4h0M130.1 120.4h0M91.5 140.6h0M103.9 120.9h0M90.5 137.0h0M121.0 110.4h0M91.4 140.5h0M116.0 112.8h0M131.3 119.0h0M95.8 142.0h0M133.8 115.3h0M93.4 141.7h0M130.0 108.6h0M102.2 140.2h0M134.6 112.9h0M127.6 122.8h0M134.2 114.1h0M116.1 112.8h0M107.4 118.4h0M122.5 109.9h0M133.9 114.8h0M100.4 140.9h0M111.2 134.7h0M98.8 125.5h0M134.1 114.2h0M113.5 114.3h0M93.5 131.1h0M90.6 137.5h0M125.2 124.9h0M120.0 111.0h0M112.7 114.9h0M101.2 123.4h0M121.8 110.3h0M129.4 120.9h0M116.0 131.6h0M117.3 130.8h0M134.3 112.7h0M92.4 141.1h0M127.0 123.2h0M130.4 108.9h0M134.2 111.9h0M129.5 108.9h0M104.4 139.0h0M105.5 138.4h0M130.8 119.2h0M132.3 109.6h0M109.4 117.1h0M132.8 109.9h0M121.2 128.0h0M116.5 131.2h0M94.7 129.8h0M126.9 123.3h0M97.8 126.5h0M104.6 138.9h0M132.9 116.1h0M116.2 131.4h0"/><path stroke="#f6fbd0" d="M125.4 109.4h0M94.9 141.8h0M90.8 137.9h0M122.1 110.4h0M94.7 141.8h0M90.9 138.6h0M133.9 112.7h0M99.8 141.0h0M133.3 115.0h0M92.9 132.2h0M124.0 125.7h0M133.9 113.3h0M93.9 141.7h0M133.8 113.4h0M92.3 140.8h0M91.8 140.3h0M131.6 109.7h0M103.9 139.2h0M91.4 135.0h0M94.7 141.8h0M110.9 134.7h0M92.0 140.5h0M100.8 140.6h0M110.1 135.2h0M104.7 138.7h0M132.6 116.2h0M129.3 120.6h0M133.2 111.2h0M90.9 137.2h0M120.9 111.1h0M125.9 123.9h0M95.3 129.4h0M99.1 125.6h0M109.6 135.5h0M91.8 140.2h0M107.8 136.8h0M124.7 109.9h0M129.9 109.6h0M99.7 125.1h0M97.5 127.1h0M129.1 120.7h0M92.5 133.2h0M129.2 120.5h0M92.7 132.8h0M96.3 128.3h0M131.5 110.2h0M119.7 111.7h0M132.8 115.1h0M133.2 112.6h0M129.4 120.2h0M132.4 111.0h0M111.5 134.2h0M129.7 109.8h0M133.1 113.7h0M95.3 129.6h0M100.3 124.6h0M120.3 111.5h0M98.2 141.3h0M108.7 118.1h0M132.6 111.5h0M110.1 117.1h0M124.8 124.7h0M133.0 113.7h0M123.3 126.0h0M118.9 129.3h0M132.9 112.2h0M108.7 118.1h0M123.9 125.4h0M130.6 118.6h0M123.5 110.5h0"/><path stroke="#fcfec5" d="M118.1 112.6h0M104.5 121.3h0M121.9 111.1h0M132.5 111.9h0M100.4 140.5h0M114.9 131.9h0M99.1 141.0h0M95.4 141.5h0M132.8 113.3h0M124.9 110.3h0M128.2 121.2h0M125.2 110.3h0M121.9 111.2h0M132.7 114.0h0M97.2 141.4h0M132.3 111.9h0M116.9 130.6h0M132.6 112.8h0M131.5 116.8h0M132.6 113.2h0M114.6 114.6h0M104.7 138.5h0M129.7 119.4h0M126.6 122.8h0M128.2 121.1h0M130.0 119.0h0M103.1 139.3h0M132.5 113.5h0M132.2 115.1h0M92.0 134.7h0M92.2 134.3h0M110.0 117.5h0M110.1 134.9h0M118.6 112.6h0M132.3 112.8h0M123.0 111.0h0M103.4 139.1h0M91.4 137.7h0M119.6 112.2h0M106.5 120.0h0M128.3 120.8h0M124.3 124.8h0M102.7 123.0h0M96.8 128.3h0M94.5 130.9h0M91.7 138.9h0M108.6 118.5h0M102.6 139.5h0M112.5 133.3h0M132.1 113.9h0M127.6 110.5h0M121.2 111.8h0M93.4 140.8h0M129.2 119.6h0M128.6 120.4h0M132.0 114.1h0M131.8 115.0h0M125.5 110.8h0M125.2 123.7h0M94.9 130.6h0M131.9 114.0h0M131.4 112.3h0M130.8 111.8h0M104.4 138.5h0"/><path stroke="#fffcba" d="M94.2 131.6h0M131.7 113.2h0M128.2 110.8h0M130.5 117.6h0M92.8 133.6h0M105.7 137.6h0M119.8 112.5h0M124.6 111.1h0M120.2 127.9h0M131.0 116.4h0M116.1 114.2h0M129.4 111.2h0M124.0 124.7h0M109.2 118.4h0M131.6 113.4h0M100.1 140.4h0M110.1 134.7h0M125.4 123.4h0M108.0 119.2h0M105.3 121.2h0M130.4 117.5h0M106.6 137.1h0M116.5 130.5h0M106.7 120.2h0M96.2 129.3h0M113.6 115.6h0M92.3 139.5h0M98.5 127.0h0M121.5 126.8h0M128.6 111.3h0M109.3 118.4h0M113.5 132.4h0M105.9 120.8h0M125.0 111.2h0M130.3 112.1h0M97.3 128.1h0M102.2 139.4h0M91.8 137.8h0M115.7 114.5h0M97.5 141.0h0M121.9 126.4h0M113.4 115.8h0M114.1 115.5h0M116.9 114.0h0M110.6 117.6h0M124.3 111.5h0M93.0 140.0h0M94.2 131.9h0M112.8 116.3h0M130.2 117.1h0M123.0 111.9h0M107.1 136.6h0M120.9 112.5h0M100.3 140.1h0M92.0 137.8h0M123.7 111.7h0M94.8 140.9h0M112.6 116.5h0M130.9 114.9h0M126.9 111.5h0M102.0 139.4h0M92.1 136.4h0M130.5 113.1h0M105.1 137.8h0M122.4 112.1h0M95.0 131.0h0M122.4 112.1h0M128.8 111.9h0M110.6 117.8h0M94.3 140.7h0M122.1 112.2h0M93.8 140.4h0M120.7 112.6h0M125.1 111.6h0M108.7 135.4h0M130.5 113.4h0M130.7 114.8h0"/><path stroke="#fff5af" d="M96.1 129.8h0M127.9 120.2h0M130.6 113.8h0M120.8 112.7h0M127.1 121.1h0M129.6 117.7h0M99.6 140.3h0M123.1 112.1h0M122.0 112.4h0M130.2 113.2h0M92.3 135.9h0M94.3 132.1h0M104.2 138.3h0M130.5 114.2h0M97.3 140.8h0M122.9 112.2h0M126.4 111.8h0M127.3 120.8h0M92.5 138.8h0M116.9 129.9h0M114.2 115.8h0M106.6 136.8h0M125.8 111.8h0M118.9 113.5h0M120.1 113.1h0M108.6 119.3h0M121.3 112.7h0M130.2 114.0h0M129.3 117.8h0M129.6 117.4h0M129.6 113.1h0M123.8 112.1h0M128.5 112.4h0M107.9 119.8h0M96.7 129.3h0M121.1 126.6h0M128.5 112.5h0M103.3 138.6h0M129.5 113.3h0M116.1 114.9h0M105.2 137.6h0M124.4 112.2h0M98.9 127.2h0M123.0 112.4h0M102.1 124.3h0M129.4 113.4h0M128.2 112.6h0M122.8 112.5h0M105.8 121.5h0M95.4 140.7h0M122.0 125.8h0M97.1 140.7h0M96.5 140.7h0M94.5 140.4h0M109.6 134.5h0M122.1 112.8h0M125.4 122.5h0M99.4 126.8h0M127.5 112.6h0M129.7 114.4h0M93.0 139.1h0M102.7 138.8h0M124.7 123.2h0M98.5 127.7h0M96.8 129.5h0M94.8 131.9h0"/><path stroke="#feefa6" d="M128.9 113.5h0M129.0 117.5h0M129.4 116.2h0M98.1 128.2h0M92.8 138.5h0M108.1 120.0h0M127.1 120.4h0M93.8 133.5h0M128.0 113.2h0M95.4 131.2h0M106.1 121.4h0M107.9 120.2h0M93.6 133.9h0M94.1 140.0h0M129.3 115.5h0M128.4 118.2h0M119.4 113.9h0M99.7 139.9h0M127.2 120.0h0M95.3 140.4h0M113.0 117.0h0M111.6 133.1h0M110.9 118.3h0M118.1 114.5h0M126.6 112.9h0M115.1 115.9h0M92.8 137.8h0M121.5 125.9h0M125.9 112.9h0M113.4 131.9h0M128.9 114.6h0M105.5 122.0h0M114.3 116.3h0M95.1 131.8h0M92.8 137.5h0M129.1 115.7h0M127.9 113.6h0M121.2 113.5h0M128.6 114.3h0M112.2 117.6h0M128.9 116.1h0M124.5 123.0h0M128.1 113.8h0M93.0 138.4h0M127.3 113.4h0M128.9 115.8h0M128.4 114.3h0M110.1 118.9h0M117.5 128.9h0M121.4 125.9h0M93.1 135.7h0M103.7 123.5h0M94.8 132.4h0M118.7 114.4h0M101.6 125.3h0M100.6 126.1h0M106.7 121.3h0M93.1 135.9h0M114.2 116.6h0M106.9 136.1h0M95.3 140.2h0"/><path stroke="#fee99d" d="M115.8 130.1h0M128.3 117.3h0M111.1 133.2h0M128.2 114.6h0M96.1 140.3h0M128.4 116.8h0M114.2 116.7h0M122.6 124.7h0M103.2 138.3h0M93.4 138.6h0M106.1 121.8h0M93.3 138.4h0M96.2 140.3h0M114.7 116.4h0M96.3 140.3h0M105.9 122.0h0M126.5 113.7h0M114.7 116.4h0M113.1 117.3h0M93.8 134.3h0M118.2 114.9h0M106.1 121.9h0M124.1 113.5h0M126.4 120.3h0M99.1 139.9h0M114.9 116.4h0M119.7 114.4h0M105.3 122.5h0M120.9 114.1h0M119.9 114.4h0M109.1 119.9h0M106.9 136.0h0M127.0 119.3h0M99.0 127.9h0M126.7 119.7h0M105.5 122.4h0M127.4 118.5h0M96.1 140.1h0M114.9 116.5h0M100.3 139.4h0M112.2 118.0h0M105.7 122.3h0M124.8 113.8h0M127.9 115.7h0M121.3 114.1h0M115.6 130.0h0M115.7 116.2h0M120.6 126.2h0M94.2 133.9h0M127.8 116.8h0M127.2 114.9h0M123.5 113.9h0M121.7 114.1h0M120.1 114.6h0M98.8 139.8h0M100.7 139.2h0M125.2 121.3h0M123.3 114.0h0M100.9 126.3h0M116.5 115.9h0M119.8 114.7h0M119.5 126.9h0"/><path stroke="#fee192" d="M98.2 129.0h0M121.0 114.4h0M107.8 121.0h0M122.0 124.7h0M94.3 139.1h0M122.1 114.2h0M94.8 133.2h0M124.6 114.2h0M126.7 119.1h0M120.6 125.9h0M127.0 115.3h0M121.0 114.5h0M112.0 132.3h0M93.6 136.4h0M125.5 114.4h0M125.0 121.4h0M102.5 125.1h0M104.4 123.5h0M113.7 117.4h0M93.6 136.2h0M123.2 114.3h0M112.4 132.0h0M99.7 127.5h0M125.8 120.2h0M97.2 139.9h0M103.7 124.2h0M98.9 128.4h0M113.9 117.4h0M107.3 121.5h0M125.2 114.6h0M105.2 136.8h0M97.5 129.9h0M111.8 118.6h0M125.7 120.3h0M112.3 118.3h0M126.6 115.5h0M127.0 117.0h0M112.3 118.3h0M108.8 134.3h0M111.5 132.5h0M126.1 115.2h0M124.6 114.6h0M126.6 118.4h0M106.7 122.0h0M97.5 139.8h0M100.1 139.2h0M105.1 123.2h0M100.5 127.0h0M122.7 114.7h0M94.6 134.2h0M125.9 119.5h0M123.2 114.7h0M121.1 125.2h0M96.6 139.7h0M100.6 139.0h0M109.4 120.2h0M105.2 136.7h0M121.6 114.9h0M99.9 139.2h0M121.5 124.8h0M126.1 115.8h0"/><path stroke="#fed889" d="M125.0 120.8h0M109.4 133.8h0M109.3 120.4h0M118.1 127.7h0M107.9 134.8h0M124.3 121.6h0M106.6 122.3h0M106.8 122.2h0M109.8 133.5h0M107.6 135.0h0M125.0 120.6h0M126.0 118.8h0M118.4 127.4h0M101.9 138.4h0M105.8 122.9h0M94.1 136.7h0M114.6 117.5h0M112.1 131.9h0M125.3 115.7h0M117.7 116.1h0M110.3 119.9h0M125.5 119.5h0M110.3 133.1h0M118.1 116.1h0M120.3 115.5h0M94.7 134.5h0M120.9 115.4h0M113.2 118.3h0M126.1 117.4h0M112.5 131.6h0M102.2 138.2h0M124.7 115.7h0M119.6 115.7h0M104.4 124.1h0M103.3 125.0h0M114.2 117.8h0M125.8 116.9h0M96.1 132.3h0M116.0 117.0h0M99.7 128.2h0M94.4 137.2h0M97.9 130.1h0M94.6 135.2h0M108.7 134.0h0M125.7 117.9h0"/><path stroke="#fece7f" d="M121.8 115.6h0M125.3 116.9h0M125.2 119.1h0M104.5 124.2h0M98.5 129.5h0M117.9 116.5h0M123.4 115.8h0M123.6 121.7h0M113.6 118.4h0M102.4 125.9h0M96.1 139.1h0M109.5 120.7h0M124.0 116.1h0M125.1 118.9h0M122.0 115.8h0M125.2 117.6h0M95.7 133.2h0M124.8 116.8h0M120.3 116.0h0M101.9 126.4h0M125.1 117.6h0M125.2 118.3h0M98.7 129.5h0M118.4 126.9h0M124.8 117.0h0M109.8 120.7h0M97.9 139.2h0M122.6 122.8h0M125.1 117.9h0M102.9 125.6h0M113.5 118.6h0M103.8 137.1h0M103.3 137.4h0M123.9 121.0h0M103.3 125.3h0M94.7 136.2h0M113.7 118.5h0M110.8 132.4h0M124.4 116.9h0M117.8 127.3h0M112.1 119.4h0M119.4 125.9h0M115.2 129.3h0M124.8 117.6h0M119.8 116.3h0M118.3 116.7h0M119.4 116.5h0M124.1 116.9h0M100.6 138.5h0M124.6 119.0h0M113.8 130.3h0M105.4 123.8h0M110.9 120.2h0"/><path stroke="#fdc374" d="M123.4 116.7h0M116.9 117.3h0M95.2 137.8h0M114.6 118.3h0M95.2 137.8h0M118.2 126.9h0M124.4 119.1h0M97.1 138.9h0M96.8 132.2h0M124.3 117.8h0M123.2 116.8h0M115.2 129.2h0M106.7 123.1h0M105.9 123.6h0M96.8 138.8h0M102.0 137.8h0M95.1 135.6h0M105.0 124.3h0M117.8 117.2h0M123.7 117.2h0M123.8 117.3h0M100.3 128.2h0M118.9 126.1h0M116.7 117.6h0M109.5 121.3h0M115.4 129.0h0M113.3 130.6h0M116.9 127.7h0M117.9 117.2h0M102.8 126.1h0M120.9 124.1h0M116.6 117.7h0M95.4 137.6h0M114.1 129.9h0M123.9 119.4h0M106.9 134.9h0M106.7 123.2h0M100.1 128.6h0M113.3 119.2h0M119.0 117.1h0M112.5 119.6h0M116.2 118.0h0M109.5 121.4h0M97.6 131.5h0M123.5 120.0h0M123.7 119.2h0M99.4 129.4h0"/><path stroke="#fdb96b" d="M108.3 122.2h0M106.0 135.4h0M122.3 122.0h0M107.9 134.1h0M101.3 127.6h0M120.5 124.2h0M119.3 117.2h0M110.8 120.7h0M99.0 138.6h0M120.6 124.0h0M107.1 123.1h0M116.7 118.0h0M122.5 117.7h0M99.2 138.5h0M117.5 117.8h0M98.0 131.2h0M98.1 138.6h0M96.1 137.8h0M96.6 133.3h0M101.7 127.4h0M122.8 118.1h0M121.1 123.3h0M116.4 118.2h0M116.9 118.1h0M97.1 132.5h0M95.9 137.3h0M97.4 132.1h0M119.2 117.6h0M119.4 117.6h0M99.1 138.4h0M111.0 120.9h0M98.3 130.9h0M118.8 117.7h0M119.0 125.4h0M95.9 137.1h0M122.9 119.1h0M116.5 127.6h0M98.1 131.3h0M116.6 118.3h0M97.9 138.4h0M114.2 119.2h0M114.6 129.1h0M98.3 138.4h0M100.1 138.1h0M116.6 127.5h0M106.8 123.6h0M99.0 130.2h0M106.0 135.2h0M100.7 137.9h0M95.8 136.3h0M99.2 138.3h0M104.2 136.3h0M114.7 119.1h0M108.0 122.8h0"/><path stroke="#fdaf62" d="M122.6 120.1h0M96.8 137.9h0M113.4 119.8h0M112.4 120.2h0M107.6 123.2h0M122.4 120.5h0M105.9 124.3h0M113.6 119.7h0M118.8 118.1h0M106.8 134.5h0M116.5 118.6h0M121.9 121.3h0M122.4 119.8h0M121.4 122.2h0M122.2 120.5h0M113.9 119.7h0M101.2 137.6h0M104.3 136.1h0M118.9 125.2h0M121.1 122.5h0M106.1 124.3h0M122.2 120.3h0M103.9 136.3h0M118.3 118.3h0M118.9 125.1h0M121.9 120.9h0M120.2 123.6h0M96.2 136.3h0M98.4 138.1h0M116.1 119.0h0M96.4 134.9h0M122.0 119.9h0M120.9 122.6h0M96.4 135.4h0M121.8 120.4h0M98.0 138.0h0M97.7 132.4h0M121.5 119.3h0M116.9 118.9h0"/><path stroke="#fba05b" d="M111.5 121.1h0M107.4 133.9h0M108.5 122.9h0M97.9 132.3h0M100.3 137.7h0M121.5 119.5h0M96.8 134.2h0M98.4 137.9h0M114.4 128.9h0M97.6 137.7h0M102.9 127.0h0M121.4 121.0h0M114.5 119.8h0M120.2 118.8h0M117.6 118.9h0M121.3 119.6h0M98.2 132.0h0M111.8 121.1h0M97.1 133.9h0M119.3 124.2h0M117.2 119.0h0M119.5 124.0h0M103.5 136.3h0M97.5 137.5h0M98.2 132.0h0M110.4 131.7h0M121.3 120.2h0M96.8 134.8h0M110.6 121.8h0M96.6 135.5h0M96.8 134.8h0M112.3 130.3h0M111.8 130.7h0M121.2 120.1h0M101.1 137.3h0M103.0 136.5h0M117.5 126.0h0M98.3 132.1h0M120.0 123.1h0M117.1 119.2h0M98.1 137.6h0M120.5 119.6h0M120.6 122.0h0M108.0 133.3h0M96.8 135.9h0M97.4 137.1h0M105.4 125.3h0M115.4 127.8h0M120.1 119.5h0M119.6 119.4h0M120.8 120.7h0"/><path stroke="#f99355" d="M109.2 122.8h0M107.8 123.7h0M114.6 120.1h0M110.1 122.3h0M100.8 129.3h0M110.6 131.4h0M97.6 133.4h0M105.3 125.4h0M111.0 131.1h0M114.2 120.4h0M98.1 137.4h0M120.4 120.2h0M109.8 122.6h0M102.3 136.6h0M105.5 125.4h0M111.8 121.5h0M99.6 130.7h0M100.1 130.2h0M105.1 135.1h0M98.6 137.4h0M101.3 137.0h0M104.0 126.5h0M110.7 122.1h0M98.5 137.4h0M116.0 119.9h0M104.0 126.6h0M109.1 132.3h0M97.7 133.6h0M119.8 120.3h0M116.0 127.0h0M117.3 119.8h0M113.5 129.1h0M102.3 136.5h0M113.1 121.0h0M110.6 122.3h0M120.0 121.9h0M111.4 130.6h0M117.4 119.8h0M116.6 126.4h0M118.9 123.7h0M102.5 136.4h0M113.2 121.1h0M97.7 134.0h0M109.8 122.8h0M102.2 128.2h0M111.0 130.9h0M102.4 128.1h0M119.4 122.8h0M119.9 121.0h0M97.7 134.1h0"/><path stroke="#f8864f" d="M109.7 122.9h0M108.9 123.4h0M115.7 120.3h0M100.9 129.6h0M118.4 124.2h0M116.7 120.1h0M99.0 131.9h0M110.1 131.5h0M115.9 126.9h0M101.2 136.8h0M97.5 135.2h0M111.6 122.0h0M98.1 133.5h0M115.6 120.5h0M117.4 120.2h0M98.7 137.0h0M98.5 137.0h0M118.8 120.4h0M111.5 122.1h0M98.1 136.6h0M115.5 120.6h0M119.3 121.5h0M97.7 135.1h0M98.6 132.8h0M97.9 134.4h0M105.6 134.5h0M105.5 134.5h0M97.8 135.0h0M101.2 129.6h0M112.8 121.7h0M114.5 127.8h0M99.3 131.9h0M98.0 134.7h0"/><path stroke="#f57748" d="M116.9 120.7h0M106.5 125.3h0M118.2 121.0h0M116.1 126.3h0M118.6 121.4h0M109.0 123.7h0M104.5 135.1h0M116.8 120.8h0M103.9 127.2h0M114.5 121.2h0M100.0 131.2h0M116.6 120.9h0M118.6 121.9h0M99.8 131.5h0M118.6 122.0h0M105.7 126.0h0M110.1 123.2h0M118.3 121.4h0M109.1 131.9h0M98.2 134.6h0M100.6 130.5h0M105.0 134.7h0M106.4 133.7h0M117.0 121.0h0M100.1 131.1h0M118.4 121.8h0M98.4 135.9h0M113.7 121.6h0M111.9 129.7h0M118.2 123.3h0M99.4 132.2h0M113.6 128.4h0M98.6 133.7h0M114.6 121.4h0M100.3 136.6h0M99.0 132.8h0M116.6 125.4h0M118.0 121.6h0M116.9 121.2h0M99.1 136.4h0M105.9 134.0h0M111.2 130.3h0M100.0 131.4h0M117.8 123.6h0M117.6 121.5h0M98.6 135.9h0M106.4 133.6h0M118.1 122.2h0M118.1 122.1h0M98.6 135.8h0M117.5 121.5h0M110.1 131.0h0M113.3 122.0h0M98.5 135.4h0M98.5 134.5h0M102.6 128.7h0"/><path stroke="#f36b42" d="M104.8 126.8h0M112.1 122.5h0M118.0 122.8h0M99.6 136.4h0M99.8 136.4h0M99.4 136.3h0M110.9 123.1h0M110.7 123.2h0M109.8 131.1h0M105.4 126.5h0M111.0 130.2h0M110.8 123.2h0M98.9 133.9h0M109.3 124.0h0M109.3 131.4h0M116.6 124.9h0M104.8 127.0h0M99.2 135.9h0M109.5 124.0h0M106.1 126.1h0M98.8 135.0h0M117.1 122.2h0M115.9 125.7h0M117.1 122.3h0M101.9 135.9h0M99.6 136.0h0M116.9 124.2h0M117.3 123.4h0M100.4 131.4h0M108.1 132.2h0M99.4 135.8h0M99.0 134.7h0M112.2 122.9h0M99.2 135.4h0M103.1 128.6h0M100.3 131.8h0M111.3 129.8h0M104.4 134.6h0M117.0 122.8h0"/><path stroke="#ed5f3c" d="M108.2 132.0h0M114.8 126.7h0M113.3 122.5h0M109.9 124.0h0M105.0 127.2h0M105.6 126.7h0M99.3 135.3h0M116.5 122.7h0M99.2 134.1h0M116.8 123.1h0M116.8 123.4h0M113.5 127.8h0M99.6 133.1h0M102.2 129.6h0M116.6 123.0h0M109.3 131.1h0M113.1 128.1h0M106.0 126.5h0M116.5 124.0h0M99.6 133.3h0M115.2 126.0h0M116.6 123.6h0M111.5 123.4h0M102.0 130.0h0M102.1 135.5h0M104.2 127.9h0M112.1 129.0h0M113.1 128.0h0M108.7 124.9h0M100.9 135.7h0M115.4 125.6h0M107.7 132.1h0M109.3 131.0h0M114.6 122.7h0M115.7 125.0h0M116.2 123.6h0M109.9 124.3h0M116.1 124.3h0"/><path stroke="#e65036" d="M111.0 123.8h0M107.2 132.4h0M115.2 123.0h0M104.8 134.1h0M115.7 124.9h0M100.6 132.0h0M104.8 134.1h0M104.2 134.4h0M111.6 123.7h0M109.0 131.1h0M114.3 126.7h0M114.6 123.1h0M100.6 135.4h0M101.4 130.9h0M115.7 123.8h0M114.4 123.2h0M108.7 125.2h0M114.1 123.2h0M108.1 131.7h0M114.8 123.3h0M114.5 126.2h0M115.4 124.8h0M113.1 123.4h0M111.9 128.7h0M115.5 124.4h0M115.5 124.0h0M112.3 128.4h0M110.2 124.5h0M115.0 123.5h0M113.1 127.6h0M110.3 124.5h0M114.2 123.5h0M108.4 125.5h0M115.0 123.8h0M113.3 123.6h0M112.1 123.9h0"/><path stroke="#e14430" d="M103.9 134.3h0M113.7 123.6h0M115.0 124.9h0M100.3 134.2h0M106.4 126.9h0M102.0 130.7h0M108.8 125.4h0M111.7 124.2h0M114.8 124.6h0M113.7 126.6h0M109.8 130.2h0M112.8 123.9h0M103.7 134.3h0M101.1 134.9h0M110.9 124.5h0M108.8 131.0h0M114.1 124.0h0M104.0 128.8h0M109.9 125.0h0M101.0 134.8h0M114.2 124.4h0M110.0 129.9h0M114.2 125.5h0M104.4 133.8h0M108.7 130.9h0M107.0 126.8h0M100.9 132.9h0M104.4 128.6h0M109.2 130.5h0M114.0 124.5h0M113.1 124.3h0"/><path stroke="#db382b" d="M101.2 134.4h0M110.5 125.0h0M107.3 131.8h0M103.4 134.2h0M103.9 129.2h0M107.9 131.3h0M113.5 125.9h0M108.0 131.2h0M104.1 129.1h0M102.4 131.0h0M113.5 125.7h0M102.1 131.4h0M108.0 126.4h0M105.7 127.9h0M101.5 134.1h0M113.4 125.5h0M113.3 125.3h0M112.2 127.5h0M112.3 127.3h0M106.3 127.6h0M101.4 133.8h0M102.8 134.1h0M101.9 134.1h0M101.8 134.1h0M102.8 130.6h0M108.4 130.8h0M105.9 132.5h0M103.9 129.5h0"/><path stroke="#d22b27" d="M112.9 125.3h0M101.6 133.7h0M104.4 133.5h0M103.9 129.6h0M102.4 131.2h0M103.3 130.2h0M110.9 125.4h0M111.2 125.3h0M105.7 132.6h0M109.9 125.8h0M112.3 127.0h0M101.7 132.7h0M105.6 128.3h0M101.7 133.2h0M112.4 125.5h0M110.0 125.8h0M105.9 132.5h0M111.3 128.1h0M106.4 132.0h0M111.7 127.6h0M110.1 125.9h0M107.2 131.4h0M102.1 132.6h0M103.9 133.4h0M109.3 129.8h0M108.9 126.5h0M102.4 133.6h0"/><path stroke="#c82227" d="M109.3 126.4h0M111.8 126.9h0M102.3 132.9h0M111.7 127.0h0M111.2 126.1h0M103.1 133.5h0M105.8 128.5h0M106.7 127.9h0M108.5 126.9h0M109.9 126.3h0M111.3 126.3h0M108.5 127.0h0M110.5 126.3h0M111.3 127.4h0M105.7 128.7h0M103.0 133.3h0M104.4 129.7h0M106.8 128.0h0M102.7 133.0h0M111.4 126.7h0M104.7 129.6h0M110.9 127.7h0M110.4 128.3h0M103.1 131.5h0M109.2 126.9h0M105.2 129.2h0"/><path stroke="#be1827" d="M110.6 127.8h0M107.7 127.7h0M106.8 128.2h0M108.5 127.3h0M104.3 132.7h0M103.4 132.9h0M104.3 132.7h0M104.0 130.5h0M110.5 127.6h0M103.3 132.6h0M103.3 132.4h0M103.4 131.9h0M106.0 129.0h0M108.5 127.6h0M109.4 128.8h0M106.4 131.3h0M109.7 127.6h0M107.0 130.8h0M107.2 130.6h0"/><path stroke="#b30d26" d="M108.7 129.3h0M107.2 128.5h0M107.9 129.9h0M104.1 131.7h0M104.2 132.0h0M106.1 129.3h0M104.1 131.7h0M108.3 128.2h0M107.4 128.6h0M106.8 129.0h0M105.8 129.6h0M104.4 131.8h0M104.4 131.6h0M108.4 128.6h0M105.2 131.6h0M104.9 131.7h0M108.4 128.9h0"/><path stroke="#a90426" d="M107.1 129.0h0M108.1 128.9h0M104.8 131.3h0M107.8 129.2h0M105.0 131.0h0M105.9 130.3h0M106.1 130.3h0M106.0 130.6h0"/></g><line x1="47.50" y1="189.00" x2="224.60" y2="9.50" stroke="#f42424" stroke-width="1.5" stroke-dasharray="5.0 2.2"/><rect x="47.50" y="9.50" width="177.10" height="179.50" fill="none" stroke="#6a6a6a" stroke-width="1"/><text x="42.90" y="14.10" font-size="13" text-anchor="end">200</text><text x="42.90" y="50.00" font-size="13" text-anchor="end">150</text><text x="42.90" y="85.90" font-size="13" text-anchor="end">100</text><text x="42.90" y="121.80" font-size="13" text-anchor="end">50</text><text x="42.90" y="157.70" font-size="13" text-anchor="end">0</text><text x="42.90" y="193.60" font-size="13" text-anchor="end">-50</text><text x="82.92" y="203.80" font-size="13" text-anchor="middle">0</text><text x="153.76" y="203.80" font-size="13" text-anchor="middle">100</text><text x="224.60" y="203.80" font-size="13" text-anchor="middle">200</text><path d="M44.10 9.50H47.50M44.10 45.40H47.50M44.10 81.30H47.50M44.10 117.20H47.50M44.10 153.10H47.50M44.10 189.00H47.50M82.92 189.00V192.40M153.76 189.00V192.40M224.60 189.00V192.40" stroke="#6a6a6a" stroke-width="1" fill="none"/><text x="51.70" y="22.20" font-size="15.2">RMSE=21.63</text><text x="51.70" y="38.10" font-size="15.2">MBE=-4.43</text><text x="51.70" y="54.10" font-size="15.2">MAE=16.40</text><text x="51.70" y="70.00" font-size="15.2">R</text><text x="61.80" y="65.70" font-size="10">2</text><text x="67.30" y="70.00" font-size="15.2">=0.39</text><text x="51.70" y="86.00" font-size="15.2">N=3217</text><text x="195.00" y="183.90" font-size="15.2" text-anchor="end">CoSEB</text><text x="65.60" y="221.90" font-size="15.6">In-situ</text><text x="109.60" y="221.90" font-size="16.2" font-style="italic">H</text><text x="124.00" y="216.40" font-size="10.2" font-style="italic">corr</text><text x="122.30" y="226.00" font-size="10.7">8</text><rect x="129.80" y="222.9" width="6.6" height="0.9" fill="#000"/><text x="137.60" y="225.60" font-size="10.4" font-style="italic">day</text><text x="159.60" y="221.90" font-size="16.2">(W/m</text><text x="196.00" y="216.30" font-size="10.5">2</text><text x="201.90" y="221.90" font-size="16.2">)</text><text transform="translate(18.60 100.3) rotate(-90)" text-anchor="middle" font-size="15.6">H from CoSEB <tspan font-size="16.2">(W/m</tspan><tspan font-size="10.5" dy="-5.6">2</tspan><tspan font-size="16.2" dy="5.6">)</tspan></text><g clip-path="url(#c1)" fill="none" stroke-width="3.70" stroke-linecap="round"><path stroke="#333b97" d="M423.0 132.8h0M423.2 131.7h0M298.7 157.2h0M329.5 92.8h0M332.1 91.3h0M424.8 84.2h0M426.4 110.7h0M423.4 91.4h0M425.5 104.3h0M422.4 115.2h0M303.1 134.7h0M345.8 87.8h0M344.0 90.2h0M403.6 129.3h0M416.5 119.5h0M318.2 161.7h0M416.3 119.0h0M419.9 91.2h0M419.3 91.1h0M421.1 105.3h0M399.0 130.6h0M337.6 97.2h0M385.6 140.2h0M411.4 121.4h0M356.5 83.3h0M417.6 114.3h0M420.1 107.5h0M419.0 111.5h0M418.2 92.0h0M414.6 117.9h0M413.9 84.8h0M416.1 114.7h0M400.5 127.6h0M418.4 109.9h0M403.7 125.3h0M320.2 159.4h0M417.7 93.9h0M401.7 126.4h0M320.7 112.8h0M323.1 110.7h0M397.7 129.0h0M315.9 156.5h0M312.0 151.8h0M362.4 82.2h0M409.5 82.0h0M414.1 88.3h0M361.2 83.3h0M410.9 84.2h0M313.3 123.3h0M381.0 139.9h0M311.7 149.4h0M377.7 142.1h0M384.3 137.3h0M338.5 158.6h0M417.1 103.9h0M309.6 135.2h0M309.5 138.9h0M400.0 125.3h0M343.8 97.4h0M408.1 119.4h0M315.9 154.1h0M330.1 159.4h0M350.1 154.0h0M344.6 156.1h0M362.1 84.6h0M331.5 107.1h0M411.4 87.4h0M367.0 146.8h0M394.1 128.6h0M313.1 126.2h0M311.4 145.0h0M360.5 86.3h0M391.1 130.2h0M368.4 82.6h0M325.8 112.6h0M354.4 151.2h0M339.8 102.4h0M312.2 131.5h0M403.0 81.5h0M406.0 83.7h0M374.5 81.1h0M332.6 157.7h0M370.1 82.7h0M348.7 96.5h0M355.0 150.2h0M408.0 85.9h0M311.8 141.1h0M408.6 86.9h0M359.3 148.4h0M399.1 123.0h0M358.9 88.9h0M413.3 96.4h0M370.4 82.9h0M412.7 94.4h0M312.9 145.8h0M338.0 104.3h0M337.9 104.4h0M413.7 99.0h0M376.7 139.4h0M313.4 129.9h0M405.2 84.2h0M363.9 146.0h0M349.6 152.0h0M383.1 134.4h0M357.6 90.5h0M369.3 84.1h0M322.7 117.1h0M412.8 107.2h0M373.2 82.8h0M373.6 82.6h0M313.8 130.2h0M320.0 153.9h0M412.4 107.6h0M317.7 123.1h0M323.8 116.6h0M394.1 125.3h0M346.1 152.6h0M411.4 109.0h0M333.7 109.2h0M338.1 155.2h0M364.4 87.3h0M389.4 128.5h0M366.3 86.5h0M342.2 103.0h0M387.9 129.5h0M411.8 106.9h0M408.2 89.8h0M408.1 113.3h0M364.7 87.6h0M390.8 127.0h0M366.4 143.3h0M342.5 153.4h0M361.4 145.5h0M384.7 81.2h0M369.9 85.6h0M357.2 92.9h0M353.2 95.9h0M407.9 90.2h0M313.5 138.2h0M395.7 122.9h0M370.2 141.0h0M403.4 117.0h0M313.9 141.9h0M324.0 117.9h0M383.5 81.6h0M372.0 85.0h0M378.4 135.8h0M411.4 104.0h0M395.4 81.9h0M351.0 149.6h0M406.7 89.0h0M411.2 105.2h0M318.8 123.6h0M356.0 94.2h0M319.4 151.7h0M346.6 151.3h0M403.6 116.2h0M368.4 141.5h0M410.7 104.8h0M399.7 84.0h0M354.0 147.8h0M328.8 114.5h0M407.4 112.2h0M398.2 83.4h0M393.5 82.1h0M410.7 102.3h0M328.9 114.6h0M408.2 110.9h0M407.0 112.4h0M397.5 83.4h0M383.0 131.6h0M315.8 130.2h0M331.6 155.0h0M398.0 83.6h0M386.1 82.3h0M319.8 151.5h0M360.9 144.6h0M408.9 109.2h0M410.3 100.3h0M395.9 83.0h0M354.5 96.2h0M336.0 109.4h0M354.1 147.4h0M317.7 149.2h0M379.7 83.6h0M314.9 133.5h0M400.7 117.8h0M398.4 84.0h0M374.3 137.5h0M408.8 94.9h0M406.6 112.3h0M400.6 85.3h0M377.5 84.4h0M389.8 82.4h0M408.8 95.2h0M363.8 143.1h0M314.6 136.3h0M317.9 149.2h0M382.8 131.3h0M378.6 134.4h0M407.2 92.1h0M405.0 113.8h0M401.6 86.1h0M335.5 154.1h0M314.6 139.8h0M391.7 82.7h0M318.6 125.6h0M346.0 102.6h0M408.6 95.4h0M314.8 140.1h0M404.5 88.8h0M403.0 87.4h0M397.6 119.6h0M409.8 102.1h0M336.8 109.3h0M383.9 83.2h0M320.7 122.9h0M367.2 141.1h0M379.3 133.5h0M340.1 107.0h0"/><path stroke="#374a9f" d="M372.5 138.0h0M375.7 85.5h0M332.8 112.7h0M383.4 83.5h0M392.2 123.5h0M343.8 151.3h0M409.5 101.6h0M374.2 136.9h0M325.9 118.0h0M391.3 83.1h0M352.7 147.4h0M352.3 147.5h0M327.9 116.5h0M387.2 83.2h0M375.4 136.0h0M324.9 118.9h0M395.9 84.1h0M319.9 124.5h0M354.1 97.6h0M363.2 91.2h0M342.8 151.5h0M399.2 85.6h0M408.7 98.0h0M381.7 84.2h0M408.9 98.9h0M340.2 152.4h0M382.3 130.9h0M402.4 115.1h0M386.5 83.5h0M341.7 151.8h0M398.2 118.4h0M394.9 121.0h0M315.7 133.6h0M351.8 147.5h0M389.0 125.6h0M408.4 106.5h0M355.7 145.8h0M387.3 83.6h0M359.9 93.8h0M390.3 124.3h0M366.5 140.7h0M403.6 89.6h0M406.6 94.0h0M373.2 136.8h0M404.9 91.4h0M392.9 84.2h0M351.1 147.5h0M374.7 135.8h0M348.3 102.3h0M319.3 126.3h0M373.0 87.4h0M350.3 147.8h0M368.5 89.3h0M399.1 86.5h0M359.0 144.0h0M340.5 107.7h0M403.2 89.7h0M393.0 121.7h0M342.6 151.0h0M368.9 89.2h0M338.1 109.6h0M406.7 95.2h0M347.2 149.0h0M377.3 86.4h0M357.7 144.3h0M395.8 85.5h0M394.2 120.4h0M394.4 120.2h0M353.1 99.6h0M331.7 114.9h0M377.7 133.1h0M323.4 121.8h0M406.9 97.0h0M403.1 112.6h0M386.9 125.9h0M367.6 90.4h0M363.3 92.7h0M375.0 87.6h0M385.0 127.3h0M325.3 120.3h0M394.9 119.4h0M379.6 131.3h0M357.3 97.0h0M344.5 105.8h0M331.7 153.1h0M373.4 88.4h0M319.9 148.9h0M407.1 104.3h0M317.4 144.7h0M341.2 108.1h0M388.3 124.5h0M405.6 95.2h0M355.3 98.6h0M402.5 90.8h0M360.5 142.5h0M331.7 115.4h0M368.5 90.5h0M334.1 152.7h0M377.5 87.3h0M332.1 115.2h0M346.5 104.7h0M360.3 95.3h0M403.1 111.6h0M335.2 112.9h0M331.1 152.9h0M405.8 107.4h0M366.7 139.2h0M331.5 115.8h0M325.4 152.1h0M318.5 146.4h0M399.5 88.7h0M403.2 111.2h0M323.0 150.9h0M390.7 85.8h0M347.7 147.9h0M362.8 93.8h0M330.9 116.3h0M406.1 98.3h0M366.9 139.0h0M402.3 112.1h0M406.6 100.7h0M361.2 95.0h0M317.3 143.4h0M386.9 85.9h0M392.7 86.2h0M333.6 152.5h0M384.5 126.9h0M319.6 147.9h0M356.5 143.8h0M349.4 147.0h0M324.1 122.2h0M345.1 106.0h0"/><path stroke="#3b56a5" d="M348.3 147.4h0M322.2 124.4h0M375.8 133.3h0M317.0 135.5h0M355.7 144.1h0M358.5 97.0h0M391.2 86.3h0M316.9 136.5h0M318.8 129.7h0M324.9 151.5h0M341.7 108.5h0M357.2 98.1h0M404.4 108.5h0M345.9 148.4h0M359.4 96.7h0M396.6 88.0h0M330.9 152.4h0M396.7 88.0h0M326.9 152.0h0M405.1 106.8h0M332.0 116.0h0M404.9 106.9h0M388.9 86.5h0M404.6 96.4h0M374.1 134.1h0M391.6 120.5h0M327.7 152.0h0M379.7 130.0h0M402.5 110.6h0M344.6 148.7h0M332.7 115.8h0M399.7 90.3h0M387.6 123.7h0M321.5 125.9h0M404.9 106.4h0M381.8 87.5h0M347.2 147.5h0M405.4 103.7h0M344.8 106.9h0M336.9 112.7h0M389.9 121.7h0M352.7 101.7h0M317.2 139.1h0M373.2 90.1h0M340.6 150.1h0M377.4 88.8h0M317.9 133.4h0M398.5 89.7h0M317.6 135.4h0M390.8 87.2h0M356.8 143.0h0M388.9 122.3h0M376.9 131.7h0M359.8 97.1h0M374.7 133.3h0M357.4 98.7h0M396.2 116.2h0M371.6 90.8h0M322.0 125.6h0M372.4 90.6h0M318.0 133.5h0M383.0 127.0h0M375.9 89.5h0M332.0 151.9h0M404.8 99.7h0M387.5 123.4h0M324.4 150.7h0M389.2 121.9h0M370.4 135.9h0M322.2 149.3h0M356.7 142.9h0M373.3 90.4h0M404.9 100.7h0M323.5 124.0h0M328.3 119.6h0M363.6 94.9h0M391.6 119.8h0M364.5 139.1h0M317.8 135.0h0M384.4 125.7h0M404.8 100.9h0M371.4 91.3h0M361.2 96.5h0M398.5 113.6h0M339.3 111.3h0M389.0 121.8h0M339.6 111.2h0M344.5 148.2h0M356.9 99.5h0M378.0 130.4h0M387.0 87.8h0M320.7 128.1h0M362.4 140.0h0M319.1 131.4h0M353.3 144.1h0M388.0 122.5h0M376.8 131.2h0M392.1 88.2h0M372.4 134.3h0M377.6 130.7h0M398.6 91.0h0M388.6 121.9h0M379.6 89.1h0M390.2 88.0h0M318.7 132.7h0M352.2 102.9h0M404.3 102.5h0M369.6 92.4h0M402.1 95.0h0M324.1 123.8h0M381.2 88.8h0M329.3 119.2h0M326.5 121.6h0M372.3 134.2h0M374.5 90.6h0M364.9 94.7h0M382.0 127.2h0M325.1 122.8h0M404.0 104.2h0M387.3 88.2h0M403.1 97.3h0M317.8 139.0h0M386.2 88.3h0M398.4 91.4h0M377.0 90.1h0M390.9 88.5h0M328.1 151.3h0M401.1 94.1h0M318.0 139.8h0M403.0 106.7h0M403.5 99.2h0M388.7 121.4h0M397.2 90.9h0M361.5 97.0h0M318.4 134.9h0"/><path stroke="#3f62ab" d="M318.5 134.5h0M345.2 107.7h0M395.7 115.2h0M339.4 111.9h0M319.5 145.1h0M318.1 137.8h0M372.1 92.0h0M403.5 101.4h0M326.6 150.8h0M402.1 107.8h0M318.3 141.0h0M359.1 98.8h0M403.4 100.3h0M326.8 150.8h0M318.1 137.3h0M337.5 113.5h0M343.0 148.3h0M329.5 151.2h0M367.5 136.6h0M375.8 131.3h0M372.7 133.4h0M378.1 129.5h0M357.9 99.8h0M348.1 106.1h0M368.8 135.8h0M335.0 150.7h0M394.8 90.3h0M403.0 100.5h0M375.1 91.3h0M393.4 116.8h0M318.9 134.0h0M396.5 91.3h0M402.9 104.1h0M333.8 150.8h0M378.9 90.5h0M324.8 149.8h0M399.9 94.5h0M366.0 137.2h0M341.7 148.5h0M345.9 107.8h0M320.3 130.4h0M396.4 113.7h0M391.0 89.7h0M402.7 101.7h0M322.6 148.4h0M380.6 90.2h0M348.2 106.4h0M401.4 107.4h0M330.5 119.1h0M340.5 111.7h0M358.8 99.6h0M400.1 95.1h0M374.9 131.5h0M400.9 108.0h0M332.3 150.8h0M383.6 89.9h0M358.7 99.8h0M394.5 91.1h0M339.2 112.8h0M335.8 150.2h0M398.2 93.4h0M393.7 90.9h0M387.5 121.4h0M400.5 96.2h0M331.4 118.6h0M394.1 115.4h0M366.1 95.5h0M344.6 109.1h0M330.9 119.1h0M339.5 149.0h0M368.3 94.6h0M385.5 90.1h0M340.9 148.5h0M322.7 127.1h0M382.9 125.0h0M382.5 90.5h0M322.8 127.0h0M322.0 147.4h0M346.6 146.1h0M320.0 144.4h0M337.5 114.3h0M321.1 129.8h0M400.5 107.5h0M401.8 101.9h0M353.7 103.4h0M386.5 90.3h0M374.5 131.3h0M332.6 118.1h0M396.0 92.6h0M398.5 94.6h0M319.0 136.4h0M331.6 118.8h0M339.4 113.0h0M356.3 101.9h0M319.0 140.2h0M318.9 138.1h0M352.7 143.1h0M399.4 108.8h0M384.3 123.5h0M383.9 90.7h0M397.6 94.1h0M352.1 104.6h0M336.2 149.8h0M400.6 98.4h0M400.7 98.6h0M366.6 95.8h0M364.7 96.8h0"/><path stroke="#4471b2" d="M347.8 107.4h0M356.7 101.8h0M323.2 126.9h0M398.5 95.4h0M394.4 92.3h0M372.9 93.4h0M398.7 95.6h0M393.9 92.2h0M338.8 113.7h0M401.1 103.2h0M324.6 149.0h0M342.2 147.7h0M319.9 133.4h0M386.6 90.9h0M319.7 134.0h0M388.5 119.6h0M354.1 103.6h0M382.7 91.3h0M398.3 95.6h0M392.1 91.7h0M388.8 91.1h0M360.6 139.1h0M378.1 92.2h0M340.9 112.3h0M396.1 93.7h0M377.4 128.7h0M332.2 150.3h0M397.5 94.9h0M388.8 91.3h0M375.0 93.1h0M389.0 118.9h0M400.7 101.9h0M396.1 93.9h0M337.7 114.8h0M337.6 114.9h0M322.6 147.4h0M360.2 100.0h0M389.6 91.5h0M340.8 148.0h0M320.9 145.2h0M328.0 122.3h0M360.2 100.0h0M381.8 91.8h0M396.2 94.3h0M400.3 104.3h0M353.2 142.4h0M400.0 105.3h0M387.2 120.4h0M324.2 126.1h0M379.7 126.6h0M324.9 125.4h0M354.3 141.9h0M399.8 105.6h0M339.9 113.3h0M385.5 121.8h0M357.1 140.6h0M320.1 143.2h0M380.3 92.2h0M341.0 112.6h0M381.7 92.0h0M391.5 92.3h0M384.8 122.4h0M341.5 147.6h0M325.9 124.4h0M346.7 108.7h0M388.0 119.5h0M398.9 98.1h0M365.0 136.5h0M322.6 128.5h0M377.9 92.8h0M388.6 118.9h0M377.3 93.0h0M335.1 117.1h0M393.0 93.0h0M399.5 99.6h0M343.6 110.8h0M381.9 124.6h0M382.9 92.0h0M327.0 149.5h0M359.4 139.3h0M399.8 101.3h0M366.4 96.9h0M398.9 106.8h0M395.8 94.9h0M385.3 121.6h0M324.0 126.7h0M319.5 138.4h0M320.9 144.7h0M323.3 127.6h0M322.5 128.9h0M364.5 136.5h0M349.2 107.3h0M380.1 125.9h0M325.5 148.8h0M386.5 92.3h0M370.5 95.4h0M338.2 148.6h0M319.8 140.7h0M390.7 93.0h0M398.7 106.0h0M320.0 135.3h0M397.3 97.1h0M394.0 94.4h0M370.3 132.9h0M398.8 99.9h0M397.4 108.6h0M337.0 148.9h0M391.0 93.2h0M321.2 144.8h0M339.3 114.3h0M320.1 141.8h0M322.5 129.2h0M321.1 132.0h0M331.2 149.8h0M327.9 123.0h0M393.3 113.5h0M363.7 98.8h0M399.0 103.1h0M398.4 99.9h0M398.6 100.6h0M343.6 146.4h0M395.9 96.3h0M333.6 118.6h0M396.0 110.2h0M320.3 134.4h0M398.6 105.2h0M388.2 93.0h0M398.6 105.1h0"/><path stroke="#4b7db8" d="M394.7 111.7h0M398.4 100.2h0M327.0 149.1h0M386.9 119.6h0M355.1 141.0h0M338.0 148.4h0M396.7 97.7h0M368.6 133.7h0M397.5 107.4h0M321.1 132.2h0M326.1 148.8h0M354.8 141.0h0M398.2 100.9h0M348.8 143.8h0M388.5 93.4h0M393.5 95.1h0M392.4 94.6h0M389.7 116.7h0M323.4 147.1h0M342.2 146.8h0M366.2 97.9h0M333.1 119.3h0M385.0 121.0h0M323.0 146.6h0M343.9 146.0h0M375.3 128.9h0M379.0 94.0h0M393.6 95.6h0M389.8 94.0h0M375.0 129.2h0M395.0 96.8h0M381.8 93.7h0M351.6 106.5h0M378.2 126.6h0M384.0 93.6h0M352.9 105.8h0M346.4 109.8h0M321.1 143.7h0M365.4 98.5h0M397.8 102.2h0M330.3 121.5h0M388.0 118.0h0M374.3 129.5h0M334.0 149.1h0M383.3 122.3h0M325.4 126.1h0M320.5 134.8h0M387.8 93.9h0M379.0 94.2h0M320.9 133.6h0M326.2 125.2h0M394.5 96.8h0M352.7 141.7h0M366.0 98.4h0M367.2 97.8h0M321.6 144.5h0M389.1 116.8h0M334.7 149.0h0M328.1 149.1h0M396.7 99.7h0M337.5 148.3h0M394.5 97.0h0M348.2 108.8h0M387.8 118.1h0M328.4 149.1h0M361.7 100.7h0M397.3 101.6h0M333.4 119.3h0M358.1 102.8h0M391.6 95.3h0M346.8 144.5h0M348.9 108.4h0M320.2 138.2h0M369.3 132.8h0M376.3 127.8h0M395.6 108.7h0M320.2 138.9h0M366.2 134.7h0M363.7 99.8h0M322.5 145.7h0M325.6 126.0h0M374.9 128.8h0M378.2 94.8h0M353.1 106.0h0M360.3 101.7h0M381.7 123.3h0M396.5 106.3h0M331.4 121.0h0M392.9 112.1h0M385.9 94.5h0M390.0 115.3h0M333.2 149.0h0M324.8 147.5h0M385.8 119.5h0M394.3 110.1h0M373.9 96.0h0M396.1 100.7h0M395.5 99.7h0M321.2 133.8h0M375.4 95.7h0M362.7 136.4h0M394.9 99.0h0M381.7 123.1h0M320.8 135.1h0M358.4 138.7h0M395.7 100.4h0M385.1 120.0h0M335.9 117.9h0M347.2 144.0h0M396.3 103.6h0M345.2 111.2h0M393.0 97.5h0M395.8 106.5h0M342.7 112.9h0"/><path stroke="#5588be" d="M325.0 127.2h0M376.8 127.0h0M395.3 100.2h0M352.6 106.6h0M321.1 142.3h0M342.2 146.2h0M394.2 109.6h0M322.9 130.2h0M341.9 146.3h0M392.0 112.6h0M390.2 114.6h0M369.1 97.9h0M321.3 134.0h0M365.2 99.6h0M339.1 147.4h0M391.8 97.1h0M372.7 130.0h0M320.7 139.9h0M320.6 139.3h0M374.4 128.7h0M341.5 114.0h0M389.2 115.6h0M352.1 141.5h0M367.7 133.3h0M320.6 139.2h0M391.1 113.4h0M395.2 101.1h0M320.7 138.7h0M355.3 105.3h0M331.0 121.7h0M383.4 95.3h0M383.2 121.3h0M346.3 110.8h0M323.6 146.1h0M343.0 113.1h0M383.7 95.5h0M320.8 137.4h0M323.5 146.0h0M321.1 141.5h0M324.8 127.9h0M368.4 98.6h0M320.9 136.7h0M379.3 124.5h0M335.8 148.1h0M324.7 146.9h0M381.5 122.6h0M388.2 96.7h0M344.6 144.9h0M341.9 114.0h0M378.5 96.2h0M393.7 108.6h0M348.4 109.7h0M323.0 130.8h0M373.6 97.2h0M379.8 123.9h0M388.9 97.1h0M325.4 127.3h0M386.9 96.5h0M394.6 105.2h0M384.1 120.0h0M321.8 133.4h0M369.1 98.6h0M339.4 115.9h0M377.1 126.0h0M358.8 137.9h0M381.0 122.8h0M394.2 102.6h0M369.9 131.4h0M321.5 134.7h0M374.9 127.7h0M321.9 143.2h0M348.9 142.7h0M391.5 99.0h0M389.0 114.8h0M382.5 96.3h0M325.7 127.1h0M374.1 97.4h0M378.0 96.6h0M321.9 133.7h0M378.0 96.7h0M385.5 96.7h0M371.1 130.4h0M321.2 140.0h0M355.9 105.5h0M360.0 137.1h0M324.3 146.3h0M322.6 132.0h0M388.8 114.7h0M392.1 110.3h0M390.0 98.5h0M391.6 110.9h0M340.9 115.1h0M382.9 120.8h0M358.5 137.9h0M350.2 108.9h0M382.8 96.7h0M322.4 132.7h0"/><path stroke="#6095c4" d="M366.6 133.2h0M372.1 98.1h0M392.1 109.9h0M355.6 105.8h0M380.4 96.8h0M328.2 148.1h0M328.2 148.1h0M388.9 114.3h0M327.3 147.8h0M321.3 140.1h0M390.2 99.2h0M391.9 100.9h0M322.1 142.9h0M384.0 119.4h0M338.8 116.8h0M377.7 97.2h0M363.8 101.5h0M349.0 142.3h0M347.1 143.3h0M361.7 135.9h0M375.4 97.7h0M382.3 121.0h0M339.7 146.5h0M373.3 98.2h0M337.6 117.8h0M321.4 139.3h0M389.0 113.7h0M338.2 117.4h0M331.6 122.1h0M382.3 97.3h0M392.0 108.9h0M390.7 100.4h0M378.8 124.0h0M326.2 147.2h0M368.4 99.8h0M379.6 123.3h0M392.3 102.9h0M380.6 97.4h0M338.1 117.5h0M374.0 127.8h0M325.0 128.6h0M384.1 119.0h0M345.9 143.7h0M377.5 125.0h0M357.8 105.0h0M362.6 102.5h0M392.1 103.1h0M349.3 109.9h0M343.9 144.6h0M380.0 97.6h0M324.6 146.1h0M363.6 102.0h0M392.1 107.6h0M369.0 131.3h0M390.2 111.6h0M352.0 108.4h0M345.4 112.4h0M322.0 141.9h0M326.0 127.5h0M392.2 106.5h0M378.3 97.8h0M362.7 135.1h0M368.1 131.8h0M377.5 124.8h0M360.3 103.8h0M385.3 98.4h0M326.6 147.2h0M382.4 97.9h0M390.6 101.6h0M370.0 99.6h0M388.4 99.8h0M348.4 142.3h0M380.4 97.9h0M364.7 101.7h0M391.9 105.6h0M334.7 147.6h0M377.1 98.2h0M323.6 144.9h0M358.1 137.5h0M349.1 110.3h0M343.4 144.7h0M349.5 110.0h0M379.3 98.1h0M389.8 101.3h0M327.3 126.3h0M374.6 98.7h0M389.4 101.0h0M390.1 101.8h0M363.7 102.3h0M371.3 129.4h0M391.6 105.5h0M340.6 145.8h0M382.1 120.3h0M321.9 136.3h0M388.6 100.8h0M340.9 145.6h0M383.9 98.8h0M384.7 117.6h0"/><path stroke="#69a0ca" d="M362.3 103.2h0M321.8 139.1h0M355.9 106.5h0M322.3 134.7h0M371.9 99.5h0M391.0 104.4h0M391.2 106.2h0M351.3 109.2h0M386.3 99.7h0M380.8 98.5h0M374.7 126.6h0M377.5 124.4h0M334.2 147.5h0M372.3 99.5h0M345.2 113.0h0M381.7 120.6h0M376.5 98.8h0M390.7 104.3h0M390.9 105.1h0M385.7 116.2h0M322.1 141.1h0M322.1 135.9h0M374.6 126.6h0M390.1 109.5h0M355.8 138.4h0M378.1 98.8h0M376.4 99.0h0M365.8 101.8h0M387.6 100.9h0M361.3 103.9h0M374.5 99.3h0M360.6 104.3h0M351.4 109.4h0M327.7 126.4h0M336.5 119.4h0M368.0 101.1h0M344.1 144.0h0M376.3 99.1h0M386.8 114.6h0M337.7 146.5h0M322.1 140.5h0M354.2 107.8h0M377.5 124.0h0M359.0 105.2h0M377.8 99.1h0M345.8 112.8h0M363.2 103.1h0M366.1 101.9h0M389.7 104.0h0M380.8 121.0h0M378.0 99.2h0M388.4 111.9h0M389.4 103.6h0M340.9 145.3h0M364.3 133.5h0M389.0 110.7h0M370.1 100.6h0M374.1 126.7h0M365.3 132.9h0M386.8 101.2h0M379.9 121.8h0M365.4 132.8h0M389.6 109.0h0M354.4 138.9h0M389.7 108.1h0M388.5 111.4h0M334.3 121.1h0M382.6 99.8h0M389.8 106.5h0M340.9 116.4h0M340.8 116.5h0M387.1 102.0h0M388.8 103.7h0M374.1 100.0h0M384.6 100.6h0M389.5 108.0h0M345.5 143.2h0M354.4 138.8h0M386.5 114.2h0M337.2 146.5h0M380.9 120.6h0M380.8 99.8h0M386.0 101.4h0M322.3 139.9h0M350.2 110.4h0M365.3 132.7h0M387.0 102.2h0M383.0 118.2h0M374.8 100.0h0M379.6 99.8h0M356.0 107.2h0M346.7 142.6h0M383.3 100.4h0M331.0 123.7h0M388.1 103.5h0M328.5 126.0h0M327.8 126.6h0M382.5 100.3h0M325.0 145.4h0M336.3 120.0h0M385.1 101.3h0M388.2 110.9h0M343.9 143.8h0M360.7 135.3h0M369.5 129.8h0M385.8 114.7h0M372.3 100.7h0M380.4 120.8h0M388.5 104.6h0M383.4 117.6h0M388.0 111.2h0"/><path stroke="#72abd0" d="M373.7 126.6h0M348.9 141.3h0M341.5 116.3h0M365.7 132.2h0M345.7 113.5h0M329.1 125.6h0M339.9 145.4h0M353.2 139.1h0M341.2 116.6h0M366.7 102.5h0M357.6 106.7h0M322.4 138.1h0M324.1 144.1h0M368.3 130.4h0M383.5 101.3h0M382.7 118.0h0M384.9 102.0h0M344.3 143.5h0M322.5 137.7h0M370.8 101.3h0M370.1 101.5h0M383.2 117.4h0M352.1 109.7h0M384.5 101.9h0M382.6 101.2h0M370.6 101.5h0M387.0 103.9h0M368.7 130.0h0M322.6 136.8h0M342.6 115.7h0M344.0 114.8h0M380.5 100.8h0M376.9 100.6h0M384.9 102.4h0M378.2 122.4h0M385.0 115.0h0M375.6 100.8h0M370.4 101.6h0M334.4 121.6h0M376.0 100.8h0M361.3 105.1h0M379.5 100.9h0M376.0 124.3h0M342.2 116.1h0M323.7 143.2h0M387.9 107.2h0M382.1 118.3h0M326.6 128.6h0M387.8 107.4h0M374.3 101.1h0M364.3 132.8h0M352.1 110.0h0M333.5 146.9h0M348.0 112.4h0M365.6 103.3h0M385.3 103.2h0M377.4 101.0h0M387.7 107.5h0M341.6 144.5h0M323.2 141.8h0M375.0 125.0h0M383.6 116.4h0M323.1 141.3h0M323.4 142.2h0M326.1 145.6h0M386.1 104.1h0M387.6 107.6h0M322.8 137.0h0M349.6 140.6h0M366.4 131.3h0M387.5 108.6h0M376.8 123.4h0M381.8 118.4h0M370.1 102.1h0M361.7 134.2h0M375.5 101.2h0M381.3 118.9h0M380.2 120.1h0M329.2 146.8h0M368.8 102.4h0M385.5 103.9h0M355.7 137.5h0M366.6 131.1h0M373.7 101.4h0M334.0 122.1h0M350.2 140.2h0M387.1 109.5h0M370.9 128.1h0M327.1 146.1h0M356.9 107.5h0M384.8 103.5h0M364.8 103.9h0M323.0 135.8h0M363.2 133.3h0M335.7 146.4h0M378.8 101.5h0M362.3 105.0h0M347.1 141.8h0M359.0 106.5h0M330.6 146.9h0M367.2 130.7h0M383.4 102.9h0M348.3 141.1h0M373.7 125.8h0M330.6 146.8h0M325.4 144.9h0M374.7 101.6h0M386.9 107.4h0M373.0 126.4h0M342.7 116.1h0"/><path stroke="#7fb6d6" d="M380.7 119.3h0M322.9 136.9h0M383.0 116.5h0M384.3 114.8h0M383.7 103.3h0M360.0 106.2h0M342.9 116.0h0M386.5 106.8h0M324.0 133.4h0M337.6 145.7h0M324.7 144.1h0M342.7 116.2h0M352.8 138.8h0M324.1 143.0h0M381.9 117.7h0M340.7 144.5h0M385.2 105.0h0M385.5 105.5h0M333.2 146.6h0M356.1 137.0h0M351.5 139.4h0M380.5 102.4h0M331.4 124.4h0M371.6 127.2h0M370.5 128.1h0M333.0 123.1h0M386.3 108.0h0M362.8 133.2h0M339.5 118.6h0M384.9 105.1h0M368.8 103.0h0M369.2 103.0h0M380.7 102.6h0M353.3 138.4h0M323.1 139.8h0M385.6 106.4h0M354.2 137.9h0M373.9 102.3h0M378.5 102.4h0M325.8 130.5h0M378.1 102.4h0M351.2 111.1h0M385.9 109.2h0M382.7 103.8h0M360.5 106.4h0M359.9 106.7h0M331.4 146.6h0M340.6 117.9h0M369.5 128.6h0M333.1 146.5h0M366.7 130.6h0M324.3 143.0h0M324.7 143.7h0M381.2 117.9h0M336.9 120.7h0M326.9 145.5h0M384.8 105.9h0M366.8 103.9h0M328.5 146.1h0M380.4 118.8h0M378.2 102.7h0M352.6 138.6h0M374.8 124.2h0M385.4 110.4h0M363.1 132.8h0M330.6 125.4h0M370.7 103.1h0M333.7 122.9h0M379.9 103.2h0M380.8 103.5h0M385.2 107.8h0M369.8 103.3h0M338.4 145.1h0M330.4 146.4h0M355.5 109.1h0M375.8 102.7h0M370.4 103.3h0M370.4 127.7h0M365.3 104.7h0M355.2 137.2h0M384.9 111.2h0M324.9 132.4h0M381.9 116.5h0M379.3 103.3h0M331.1 125.0h0M385.0 108.1h0M379.3 103.3h0M358.3 135.5h0"/><path stroke="#8abeda" d="M343.3 143.1h0M332.7 123.9h0M324.0 134.5h0M365.7 104.7h0M384.8 110.3h0M325.3 131.7h0M323.4 139.1h0M382.8 105.2h0M323.8 141.2h0M376.7 122.1h0M341.2 117.9h0M334.7 146.0h0M337.5 145.3h0M384.4 107.9h0M370.4 103.6h0M374.0 124.5h0M381.1 117.1h0M342.7 116.9h0M323.6 139.8h0M384.2 107.6h0M379.8 118.6h0M328.3 127.9h0M382.6 114.9h0M326.1 144.5h0M382.8 105.9h0M324.2 134.6h0M358.1 135.4h0M379.8 104.2h0M324.5 142.6h0M323.7 136.7h0M384.2 110.9h0M330.8 125.7h0M324.9 132.9h0M380.7 117.4h0M367.5 104.5h0M379.9 104.3h0M323.8 135.9h0M358.1 108.2h0M349.3 139.9h0M371.0 103.8h0M372.5 103.6h0M377.5 103.7h0M383.9 111.5h0M377.5 103.8h0M330.7 146.1h0M382.9 113.8h0M370.4 103.9h0M377.1 103.7h0M343.1 116.8h0M361.8 133.1h0M335.0 122.5h0M383.8 111.5h0M323.9 135.9h0M371.2 103.9h0M370.0 127.5h0M379.7 118.4h0M343.4 116.7h0M355.3 109.7h0M368.6 128.5h0M329.1 127.3h0M381.5 115.9h0M383.8 109.1h0M381.0 116.6h0M377.7 104.1h0M366.4 130.0h0M364.7 105.7h0M370.9 104.1h0M348.8 113.3h0M371.1 126.5h0M350.5 112.4h0M373.9 124.1h0M366.9 105.0h0M382.1 114.8h0M345.9 141.5h0M366.8 105.0h0M378.8 104.6h0M332.7 124.3h0M359.7 134.2h0M383.0 112.7h0M368.8 104.6h0M349.8 139.5h0M340.5 143.9h0M383.0 108.0h0M328.1 145.4h0M332.2 124.7h0M370.1 127.2h0M330.9 146.0h0M327.8 129.0h0M331.5 146.0h0M333.9 145.8h0M356.1 136.2h0M354.1 110.5h0M369.7 104.6h0M347.4 114.4h0M361.7 133.0h0"/><path stroke="#94c7df" d="M324.8 142.5h0M382.7 107.9h0M337.2 121.3h0M372.5 104.2h0M329.9 145.8h0M368.8 104.8h0M326.0 143.9h0M360.9 107.4h0M360.1 133.8h0M382.5 107.9h0M365.7 130.3h0M324.3 135.6h0M330.7 126.2h0M330.2 145.8h0M339.2 144.3h0M382.8 108.7h0M330.1 126.7h0M355.5 109.9h0M382.2 113.7h0M383.0 111.3h0M329.3 127.5h0M378.8 105.2h0M376.3 104.5h0M324.0 136.9h0M327.6 129.4h0M368.0 128.6h0M332.1 145.8h0M382.9 110.9h0M324.0 139.3h0M324.7 142.0h0M338.7 144.4h0M341.0 143.6h0M382.8 111.3h0M324.4 141.1h0M382.7 109.9h0M356.5 135.8h0M358.0 134.9h0M382.7 110.9h0M371.9 125.4h0M374.2 123.4h0M324.6 141.6h0M362.4 107.0h0M341.8 118.2h0M381.2 107.2h0M339.9 119.6h0M382.3 108.7h0M331.3 125.9h0M360.9 107.7h0M380.2 106.4h0M341.6 118.4h0M381.5 114.3h0M338.9 144.3h0M381.6 108.0h0M363.7 131.4h0M325.5 143.0h0M348.6 113.9h0M324.6 141.3h0M344.4 116.6h0M329.6 127.5h0M382.0 112.8h0M380.7 107.2h0M373.7 104.9h0M380.0 116.6h0M382.2 111.6h0M362.8 107.1h0M364.2 106.6h0M372.9 104.9h0M362.9 107.1h0M354.7 110.7h0M363.8 106.8h0M325.4 142.7h0M377.1 105.6h0M354.6 110.8h0M326.4 131.5h0M358.2 109.1h0M353.4 111.4h0M340.8 119.2h0M362.2 107.4h0M333.7 124.1h0M376.7 105.5h0M381.6 109.2h0M374.6 122.6h0M381.6 112.7h0M346.4 115.5h0M378.7 106.3h0M379.2 117.3h0M348.4 139.7h0M324.8 134.9h0M349.0 113.9h0M375.5 121.6h0M347.4 114.9h0M352.6 112.0h0M361.9 107.7h0M337.6 121.5h0M378.5 118.2h0"/><path stroke="#a1d1e5" d="M339.5 120.2h0M367.4 128.5h0M380.5 114.8h0M337.0 122.0h0M335.8 144.9h0M326.5 131.6h0M377.2 106.2h0M373.2 123.6h0M381.3 110.2h0M324.8 140.9h0M330.4 145.4h0M374.7 105.7h0M372.9 123.9h0M360.4 133.1h0M372.6 124.2h0M375.9 105.9h0M352.4 137.5h0M330.5 127.0h0M381.2 112.4h0M342.7 142.4h0M372.9 105.7h0M347.6 115.0h0M346.2 115.8h0M379.7 108.0h0M373.6 105.7h0M370.5 125.8h0M347.7 139.9h0M368.2 106.2h0M359.5 108.9h0M380.4 109.0h0M337.3 144.4h0M324.6 137.1h0M380.6 109.3h0M375.5 106.1h0M356.9 135.0h0M369.2 126.8h0M380.9 112.2h0M333.7 124.5h0M370.8 105.9h0M377.6 106.9h0M372.1 105.9h0M380.4 113.9h0M373.2 123.3h0M362.9 131.3h0M367.7 106.4h0M379.9 114.9h0M358.5 134.1h0M367.0 128.4h0M344.7 117.0h0M366.3 129.0h0M378.5 117.2h0M330.3 127.4h0M358.9 109.4h0M347.7 139.8h0M345.3 116.6h0M335.0 123.6h0M375.2 106.4h0M378.1 117.8h0M376.2 106.7h0M341.7 119.0h0M352.4 112.5h0M333.3 124.9h0M363.0 131.1h0M346.2 116.1h0M376.7 107.0h0M342.5 118.5h0M372.5 123.8h0M326.3 143.1h0M375.0 121.3h0M335.8 123.2h0M370.2 106.3h0M366.8 106.9h0M362.6 131.4h0M345.6 140.8h0M377.6 118.1h0M345.5 116.6h0M327.3 131.0h0M326.7 131.9h0M337.0 122.4h0M366.5 128.6h0M368.1 106.7h0M375.3 106.8h0M344.9 141.1h0M378.2 117.1h0M326.1 133.1h0M370.1 106.5h0"/><path stroke="#acdae9" d="M370.9 125.0h0M334.1 144.9h0M379.6 110.0h0M380.0 112.3h0M373.8 122.3h0M379.3 109.5h0M344.6 141.2h0M335.6 144.6h0M329.3 144.7h0M379.5 114.4h0M360.8 109.0h0M325.1 136.2h0M326.3 142.8h0M360.4 132.5h0M358.4 133.7h0M335.5 123.6h0M379.4 113.6h0M378.5 109.3h0M333.9 124.8h0M363.2 130.7h0M345.1 117.1h0M332.5 144.9h0M369.5 107.0h0M361.1 109.1h0M325.5 134.9h0M371.8 123.9h0M364.1 108.1h0M333.0 144.9h0M378.3 116.0h0M337.7 122.2h0M350.1 138.3h0M375.5 107.6h0M325.2 136.2h0M338.9 143.5h0M379.3 111.4h0M378.6 115.3h0M325.9 134.1h0M334.4 124.5h0M355.2 111.7h0M379.2 112.4h0M341.4 119.7h0M338.8 121.6h0M356.5 111.1h0M374.7 107.6h0M341.5 142.4h0M370.5 107.1h0M325.6 141.1h0M378.8 110.7h0M366.6 107.7h0M344.4 117.8h0M347.1 139.7h0M337.0 122.8h0M329.7 144.6h0M379.0 112.7h0M345.9 140.3h0M340.5 142.8h0M327.1 132.0h0M325.1 138.0h0M354.9 135.5h0M329.2 144.4h0M334.3 124.7h0M326.7 142.8h0M325.6 140.9h0M325.8 141.5h0M367.0 107.7h0M353.1 136.5h0M351.6 137.3h0M325.5 135.6h0M370.4 107.5h0M331.6 127.0h0M354.2 112.4h0M367.2 107.8h0"/><path stroke="#b6dfec" d="M325.7 135.2h0M377.4 109.8h0M325.3 136.9h0M375.0 120.0h0M334.4 124.8h0M377.9 110.6h0M327.7 131.4h0M346.2 116.9h0M377.9 110.6h0M367.0 127.5h0M342.0 119.5h0M372.8 107.8h0M339.3 143.1h0M328.0 131.0h0M376.4 117.8h0M371.3 123.7h0M377.9 115.1h0M356.5 134.4h0M364.4 108.6h0M325.5 139.8h0M332.6 144.6h0M333.8 144.5h0M375.1 119.6h0M337.7 122.6h0M357.2 134.0h0M377.3 116.2h0M377.0 110.0h0M325.4 139.3h0M327.2 132.3h0M372.0 108.0h0M375.7 109.1h0M376.1 109.3h0M376.8 117.0h0M376.4 109.6h0M372.7 122.2h0M330.5 144.4h0M333.4 144.5h0M325.9 135.2h0M327.4 143.1h0M332.0 126.9h0M334.3 144.4h0M362.2 130.8h0M345.8 140.1h0M352.1 113.7h0M359.9 110.3h0M356.8 111.5h0M354.0 135.8h0M333.1 126.1h0M374.6 108.8h0M325.5 138.4h0M349.8 137.9h0M352.0 113.8h0M374.7 119.7h0M325.6 137.2h0M336.9 123.3h0M341.5 120.2h0M358.1 111.0h0M377.6 114.1h0M376.7 110.5h0M360.7 110.1h0M336.7 123.5h0M338.2 122.5h0M355.5 134.8h0M340.9 142.2h0M364.9 128.7h0M349.9 137.8h0M357.6 133.5h0M376.5 116.6h0M360.9 110.1h0M359.0 132.6h0M355.6 134.7h0M376.0 110.3h0M345.4 117.7h0M376.4 110.7h0M372.9 108.8h0M373.9 109.1h0M348.8 115.7h0M359.3 110.7h0M339.2 142.9h0M326.0 135.8h0M365.2 109.0h0M354.6 112.8h0M370.6 108.5h0M342.9 141.3h0M328.8 143.7h0M373.8 120.5h0M366.5 127.3h0M346.0 117.5h0"/><path stroke="#c3e5f0" d="M377.1 114.3h0M339.3 121.9h0M334.1 125.5h0M337.6 143.4h0M349.2 138.1h0M369.5 108.6h0M367.8 108.7h0M368.4 125.8h0M325.7 138.6h0M367.7 126.3h0M334.5 125.2h0M351.7 136.7h0M345.8 139.9h0M362.7 109.7h0M377.1 113.2h0M326.1 140.3h0M369.9 124.3h0M340.7 142.2h0M351.1 114.7h0M377.0 113.6h0M357.9 111.5h0M373.3 120.8h0M358.1 133.0h0M362.6 109.9h0M325.9 139.1h0M330.4 144.0h0M368.3 108.8h0M374.6 110.0h0M342.5 141.4h0M370.9 108.9h0M371.8 122.3h0M327.1 142.1h0M335.2 124.8h0M329.5 129.9h0M371.8 122.3h0M373.8 120.0h0M376.6 113.0h0M329.7 129.7h0M376.6 114.2h0M371.0 123.1h0M375.7 111.2h0M368.7 125.2h0M328.5 131.2h0M343.6 140.8h0M328.7 131.0h0M327.9 132.1h0M375.7 116.9h0M354.7 113.0h0M361.2 110.5h0M358.1 132.9h0M376.3 115.2h0M362.3 110.2h0M339.6 122.0h0M342.8 119.8h0M326.2 136.3h0M366.5 127.0h0M359.1 111.3h0M334.8 143.8h0M329.9 129.7h0M355.3 112.9h0M373.7 110.2h0M336.1 143.5h0M326.0 138.0h0M365.8 127.5h0M367.0 126.5h0M352.7 135.9h0M328.6 131.3h0M335.5 124.9h0M362.7 129.7h0M373.5 110.3h0M335.3 125.0h0M373.1 120.3h0M371.4 109.6h0M349.8 115.7h0M350.9 136.9h0M369.9 109.5h0M357.9 111.9h0M340.2 121.7h0M364.2 128.6h0"/><path stroke="#cdeaf3" d="M327.6 142.2h0M327.3 133.6h0M335.6 124.8h0M331.6 128.2h0M334.0 126.0h0M371.4 122.1h0M368.3 109.6h0M375.6 113.1h0M358.8 132.2h0M374.3 111.3h0M339.5 142.3h0M373.5 110.8h0M356.8 112.6h0M326.3 138.9h0M326.3 137.4h0M346.4 117.9h0M355.6 113.1h0M371.8 121.4h0M337.8 142.9h0M343.4 119.8h0M328.1 132.5h0M368.2 125.1h0M371.7 110.3h0M327.8 133.0h0M369.8 123.5h0M375.3 113.8h0M356.8 112.7h0M333.5 126.7h0M372.9 110.9h0M363.8 110.5h0M374.7 112.6h0M358.7 132.1h0M373.0 111.0h0M373.0 119.8h0M360.7 130.8h0M328.5 142.7h0M353.5 114.2h0M368.1 110.0h0M330.8 129.2h0M338.0 123.5h0M333.5 126.8h0M369.9 123.2h0M326.8 140.4h0M344.7 119.1h0M375.0 114.1h0M371.7 121.3h0M369.8 123.3h0M358.0 112.3h0M362.0 111.0h0M331.4 128.7h0M345.2 118.8h0M327.0 140.8h0M372.4 120.3h0M328.8 142.7h0M374.7 113.5h0M371.7 110.9h0M336.4 124.7h0M355.9 133.7h0M374.8 114.6h0M357.4 112.7h0M371.3 110.8h0M326.5 138.2h0M374.4 116.3h0M349.8 116.3h0"/><path stroke="#d8eff6" d="M348.5 137.7h0M335.8 125.2h0M372.6 119.7h0M328.6 142.5h0M331.6 143.5h0M370.2 122.5h0M341.6 121.2h0M369.4 123.4h0M351.8 115.3h0M371.7 111.2h0M372.7 111.8h0M340.5 122.1h0M347.9 138.0h0M369.9 110.8h0M363.9 111.0h0M366.7 125.8h0M338.3 142.4h0M333.6 127.0h0M367.2 110.7h0M368.7 123.9h0M350.7 136.5h0M348.9 137.4h0M373.8 116.5h0M366.7 110.8h0M345.4 119.0h0M371.1 111.4h0M335.6 143.1h0M373.1 112.8h0M331.6 128.9h0M372.5 119.2h0M373.1 112.9h0M352.9 115.0h0M327.6 134.5h0M373.7 113.9h0M359.1 112.5h0M329.3 142.6h0M344.6 119.6h0M327.2 135.8h0M368.5 123.9h0M373.4 113.7h0M341.7 121.5h0M327.4 135.0h0M367.7 111.0h0M358.2 131.9h0M371.1 111.8h0M363.2 111.5h0M366.6 111.1h0M338.6 142.1h0M373.5 114.4h0M341.6 140.9h0M371.7 112.3h0M356.7 132.8h0M334.7 126.3h0M343.8 120.2h0M360.0 112.4h0M356.0 133.2h0M369.3 111.4h0M370.5 111.8h0M367.2 111.2h0M329.8 131.1h0M360.0 112.4h0M354.0 114.7h0M334.6 126.5h0M345.9 138.8h0M331.4 143.1h0M373.4 114.9h0M365.2 111.3h0"/><path stroke="#e2f4f4" d="M350.2 116.6h0M357.3 113.4h0M372.0 112.8h0M363.4 111.6h0M370.5 121.3h0M328.9 142.1h0M328.3 133.6h0M361.4 112.1h0M329.3 131.9h0M358.7 112.9h0M366.1 111.4h0M373.1 116.0h0M373.1 115.4h0M341.0 141.1h0M330.4 142.8h0M373.1 116.0h0M358.9 131.2h0M368.1 111.6h0M363.4 127.9h0M369.3 122.6h0M367.7 111.6h0M372.5 113.9h0M332.9 128.1h0M366.8 111.5h0M370.0 112.1h0M359.0 113.0h0M347.3 118.3h0M330.0 131.2h0M370.8 120.6h0M360.0 130.4h0M363.5 127.8h0M360.1 130.3h0M370.2 112.3h0M330.3 130.8h0M348.9 117.5h0M342.4 140.4h0M367.9 123.9h0M367.3 124.4h0M334.0 127.3h0M327.5 136.2h0M371.2 113.0h0M370.6 120.7h0M328.3 134.0h0M331.5 129.6h0M362.6 112.2h0M371.3 113.3h0M365.9 125.6h0M361.3 129.3h0M331.9 129.3h0M338.4 141.8h0M361.3 112.6h0M347.2 118.6h0M352.4 135.0h0M337.0 125.1h0M332.4 142.9h0M330.3 142.5h0M361.3 112.6h0M365.3 112.0h0M362.2 112.4h0M345.9 138.5h0M360.7 112.8h0M336.9 125.2h0M372.3 116.7h0M366.5 112.0h0M335.9 125.9h0M357.7 131.7h0M362.5 128.3h0M352.9 134.6h0M360.1 113.0h0M351.0 135.7h0"/><path stroke="#e9f6e8" d="M356.4 114.2h0M366.0 112.1h0M370.2 120.7h0M339.0 141.6h0M351.4 116.4h0M359.7 113.2h0M364.3 112.2h0M353.8 134.1h0M370.7 120.0h0M338.7 141.6h0M336.0 142.4h0M370.9 119.5h0M367.8 123.5h0M343.8 120.8h0M360.7 129.5h0M327.6 137.5h0M351.1 116.7h0M371.9 116.5h0M330.2 131.4h0M331.9 142.7h0M345.4 138.7h0M329.4 132.6h0M349.3 117.6h0M329.2 132.9h0M329.9 142.1h0M368.9 122.2h0M329.2 132.8h0M361.2 129.2h0M360.7 113.1h0M350.5 135.9h0M346.0 138.3h0M353.4 115.7h0M369.1 112.9h0M369.0 112.9h0M371.4 114.8h0M358.9 130.8h0M352.4 134.8h0M371.2 114.6h0M337.9 124.8h0M368.2 122.9h0M333.6 128.0h0M350.1 117.3h0M338.6 124.4h0M336.9 125.5h0M370.7 119.2h0M335.3 142.4h0M328.5 140.8h0M363.6 112.7h0M332.7 142.6h0M368.9 122.0h0M363.0 127.6h0M371.2 118.2h0M330.0 142.0h0M369.8 120.7h0M369.3 113.4h0M327.8 138.7h0M341.9 140.2h0M330.3 131.6h0M359.3 130.3h0M371.2 117.6h0M350.3 117.3h0M351.6 135.1h0M334.8 127.1h0M371.0 118.1h0M365.2 112.8h0M339.6 123.8h0M334.4 142.5h0M369.6 120.7h0M365.7 112.8h0M328.8 140.8h0M365.9 112.9h0M361.2 128.8h0M345.7 119.9h0"/><path stroke="#eff9dd" d="M334.8 142.3h0M328.2 135.7h0M368.2 122.4h0M327.9 137.2h0M336.3 142.1h0M363.7 113.0h0M369.5 114.1h0M370.1 119.5h0M365.1 125.6h0M370.9 115.9h0M352.5 134.5h0M359.8 113.8h0M362.3 113.3h0M349.9 117.7h0M363.6 113.1h0M358.9 114.1h0M328.0 137.0h0M359.2 130.1h0M328.4 135.4h0M342.6 122.0h0M339.2 141.1h0M345.3 120.3h0M354.8 115.6h0M370.6 116.2h0M363.6 126.7h0M369.9 119.4h0M328.2 136.5h0M339.1 141.1h0M334.2 142.3h0M363.2 113.3h0M366.0 124.5h0M368.4 121.8h0M328.9 134.5h0M328.4 135.9h0M330.4 141.8h0M363.1 113.4h0M370.0 115.3h0M334.2 142.2h0M355.8 115.3h0M337.5 141.6h0M338.0 125.2h0M364.9 113.4h0M363.0 127.1h0M354.2 133.3h0M358.1 114.5h0M362.6 113.5h0M358.0 130.8h0M367.7 113.9h0M362.4 113.6h0M330.0 132.6h0M341.2 123.1h0M363.9 113.5h0M328.3 136.7h0M366.9 113.7h0M364.1 126.1h0M332.6 129.5h0M365.9 124.3h0M332.5 129.7h0M366.3 113.7h0M369.8 118.9h0M344.5 121.1h0M354.1 116.1h0M356.1 132.0h0M350.0 118.0h0M338.2 141.3h0M369.4 115.3h0M364.0 113.6h0M354.3 133.1h0M345.8 137.9h0M370.0 117.3h0M369.4 119.4h0M355.1 115.8h0"/><path stroke="#f6fbd0" d="M368.4 121.2h0M331.5 130.8h0M335.3 127.3h0M366.2 113.8h0M328.5 138.8h0M361.7 114.0h0M338.0 125.4h0M369.6 116.0h0M328.5 136.8h0M358.7 130.2h0M364.9 125.1h0M369.7 118.4h0M368.6 120.7h0M368.7 115.1h0M360.6 128.7h0M328.5 138.3h0M338.5 125.0h0M331.1 131.4h0M369.0 115.4h0M328.5 138.2h0M366.4 123.5h0M368.9 115.4h0M355.9 115.6h0M341.5 123.2h0M328.5 138.3h0M369.3 116.2h0M360.9 128.4h0M329.0 139.7h0M353.3 116.7h0M369.6 117.3h0M344.4 121.4h0M369.2 119.0h0M329.3 134.4h0M338.7 125.1h0M359.3 114.7h0M363.3 114.1h0M337.8 141.2h0M361.9 114.2h0M328.7 136.7h0M368.9 116.0h0M365.5 114.2h0M345.6 137.9h0M369.3 117.2h0M329.7 133.7h0M345.8 120.5h0M366.0 123.7h0M331.7 141.7h0M368.6 119.9h0M351.0 117.9h0M362.4 114.2h0M355.8 115.8h0M358.1 115.1h0M368.8 119.5h0M361.4 127.9h0M346.9 120.0h0M336.4 126.7h0M352.0 134.3h0M345.4 137.9h0M346.5 120.3h0M329.0 139.2h0M349.4 118.7h0M352.6 133.8h0M358.1 115.3h0"/><path stroke="#fcfec5" d="M337.1 141.2h0M368.7 116.9h0M360.8 128.2h0M360.2 114.8h0M364.6 114.6h0M335.8 127.3h0M353.1 133.5h0M340.5 124.2h0M353.1 117.1h0M365.8 123.4h0M342.5 139.2h0M338.9 140.6h0M361.3 114.8h0M346.5 120.5h0M366.7 115.3h0M349.4 118.9h0M351.4 117.9h0M352.5 117.5h0M360.5 114.9h0M357.7 115.6h0M368.0 116.4h0M367.3 115.8h0M359.8 128.8h0M334.2 141.6h0M337.0 126.6h0M368.3 118.7h0M367.9 120.0h0M336.8 126.7h0M349.7 135.3h0M334.8 141.5h0M367.0 115.8h0M367.8 116.5h0M363.4 114.9h0M359.1 115.4h0M335.9 127.5h0M365.6 115.3h0M367.8 119.9h0M359.2 115.4h0M367.2 121.0h0M366.6 115.8h0M360.8 115.1h0M341.8 139.4h0M348.5 135.9h0M354.4 116.9h0M366.2 115.6h0M329.2 138.1h0M336.7 126.9h0M350.4 134.8h0M334.8 141.4h0M332.1 131.1h0M362.0 126.8h0M351.4 134.3h0M354.5 116.9h0M366.6 121.8h0M359.5 128.8h0M329.3 136.3h0M361.8 115.2h0M351.0 118.4h0M356.7 116.2h0M339.3 125.2h0"/><path stroke="#fffcba" d="M362.6 115.2h0M365.5 123.1h0M367.5 117.2h0M347.2 136.5h0M365.1 123.5h0M367.1 120.7h0M332.4 130.9h0M367.1 116.7h0M354.9 116.9h0M340.1 124.8h0M331.8 141.1h0M350.0 135.0h0M357.5 116.1h0M333.5 141.3h0M329.6 139.0h0M352.6 117.9h0M361.4 127.2h0M355.7 131.4h0M367.5 118.0h0M329.8 139.3h0M351.6 118.3h0M330.5 133.7h0M330.9 133.0h0M364.3 124.2h0M329.4 137.8h0M339.8 140.0h0M366.3 121.7h0M352.3 133.5h0M354.7 132.0h0M343.3 122.8h0M331.1 132.8h0M347.5 120.4h0M360.5 115.6h0M331.9 131.7h0M337.1 126.9h0M359.6 128.4h0M362.9 125.5h0M367.0 117.6h0M352.5 118.0h0M358.3 129.4h0M330.0 139.3h0M353.6 132.6h0M361.1 115.7h0M358.4 116.1h0M352.2 133.5h0M366.2 121.4h0M330.4 139.8h0M356.3 116.7h0M353.9 132.4h0M356.2 116.8h0M329.7 136.5h0M362.3 126.0h0M345.3 137.4h0M350.2 119.2h0M364.9 116.2h0M332.5 131.2h0M366.9 118.6h0M336.1 127.8h0M333.8 129.9h0M333.1 141.0h0M340.6 124.8h0M361.9 126.3h0M329.7 137.7h0M363.1 115.9h0M330.1 139.1h0M359.1 116.2h0"/><path stroke="#fff5af" d="M332.8 141.0h0M331.4 132.7h0M365.5 116.7h0M330.2 139.2h0M357.6 129.8h0M360.7 116.0h0M351.5 133.8h0M363.4 116.1h0M354.3 132.0h0M331.4 140.4h0M365.9 121.3h0M366.5 118.2h0M364.9 116.6h0M345.6 121.8h0M347.2 136.2h0M343.2 123.2h0M366.2 120.7h0M358.0 129.4h0M330.7 134.1h0M366.4 118.3h0M351.3 133.8h0M351.0 119.0h0M355.7 131.0h0M359.3 116.3h0M336.4 140.7h0M366.0 117.8h0M365.6 121.7h0M353.6 118.0h0M348.3 120.4h0M362.9 116.3h0M330.7 139.7h0M329.9 137.4h0M364.5 116.7h0M366.2 118.4h0M361.1 126.7h0M337.4 127.1h0M355.2 117.5h0M351.8 133.4h0M355.0 117.5h0M364.9 117.1h0M330.4 135.0h0M363.7 116.6h0M364.0 123.6h0M335.4 128.7h0M364.6 117.1h0M339.4 139.7h0M365.3 121.6h0M358.9 116.7h0M336.7 140.5h0M331.2 133.6h0M354.8 117.7h0M365.0 122.1h0M331.9 132.5h0M363.2 124.4h0M343.7 137.9h0M338.1 126.8h0M349.3 120.1h0M363.9 123.5h0M353.3 132.4h0"/><path stroke="#feefa6" d="M335.3 140.6h0M334.6 129.6h0M330.2 136.9h0M343.4 123.4h0M345.8 122.0h0M330.7 134.9h0M360.0 127.4h0M365.4 120.8h0M344.1 137.6h0M361.8 125.8h0M332.9 131.5h0M340.9 125.0h0M359.5 116.8h0M334.7 129.7h0M365.2 118.3h0M358.9 128.2h0M360.1 127.2h0M346.1 136.5h0M352.5 118.8h0M361.6 125.7h0M364.7 118.1h0M365.4 119.7h0M340.1 125.6h0M353.9 118.4h0M334.9 129.6h0M362.1 117.1h0M359.0 117.1h0M332.9 131.6h0M333.1 131.4h0M355.2 118.0h0M349.9 120.1h0M363.6 123.3h0M354.4 131.4h0M360.7 117.1h0M356.2 117.8h0M332.0 133.0h0M365.0 120.0h0M356.4 117.7h0M359.7 127.3h0M363.4 123.4h0M364.9 120.6h0M330.6 137.3h0M331.5 139.3h0M332.5 132.4h0"/><path stroke="#fee99d" d="M354.0 131.6h0M362.5 124.4h0M355.3 130.6h0M353.1 132.1h0M336.4 140.1h0M342.7 138.0h0M350.6 119.9h0M342.6 124.3h0M332.4 139.9h0M345.0 122.8h0M358.0 128.5h0M364.2 118.8h0M356.9 129.4h0M364.2 118.9h0M364.5 119.6h0M352.7 119.1h0M330.9 135.9h0M350.7 133.6h0M332.6 132.4h0M346.9 121.8h0M364.0 122.0h0M337.4 139.9h0M331.0 135.7h0M340.8 138.8h0M337.4 127.8h0M351.8 132.9h0M333.4 131.5h0M356.9 117.9h0M349.3 120.7h0M350.7 120.1h0M364.1 121.4h0M358.1 117.8h0M362.0 117.8h0M333.8 131.1h0M331.4 134.6h0M355.7 130.2h0M334.1 140.1h0M337.5 139.7h0M347.3 121.8h0M347.3 121.8h0M340.0 126.2h0M331.1 136.1h0M363.0 118.6h0M344.6 136.9h0M352.5 132.3h0M362.6 118.5h0M350.9 133.2h0M331.1 137.0h0M348.2 121.4h0M362.8 123.2h0"/><path stroke="#fee192" d="M332.9 139.7h0M363.8 120.8h0M331.5 135.0h0M331.2 136.1h0M349.5 120.8h0M358.4 127.9h0M353.0 131.9h0M362.9 123.0h0M361.0 125.4h0M355.5 118.6h0M361.8 124.5h0M331.7 134.5h0M336.1 139.8h0M333.8 139.9h0M359.5 118.1h0M336.8 128.6h0M359.4 126.9h0M347.6 135.1h0M359.7 118.1h0M363.5 120.9h0M358.6 118.2h0M351.4 132.8h0M355.8 118.7h0M340.3 126.2h0M351.2 120.3h0M348.8 121.3h0M332.9 132.8h0M339.6 126.7h0M352.9 119.6h0M361.6 118.7h0M349.7 133.8h0M357.7 128.2h0M360.6 125.5h0M336.4 129.1h0M357.7 118.5h0M361.0 118.5h0M354.4 119.2h0M362.4 123.1h0M333.4 139.5h0M334.6 139.7h0M354.0 119.4h0M360.7 125.2h0M363.0 121.7h0M344.1 124.0h0M361.3 124.6h0M362.9 121.7h0M362.9 120.1h0M336.8 128.8h0M361.7 119.0h0M331.7 137.6h0M363.0 121.0h0M352.2 120.0h0M350.7 133.1h0M338.1 127.9h0M358.5 127.3h0M332.4 133.9h0"/><path stroke="#fed889" d="M334.9 139.6h0M349.0 121.5h0M354.8 119.3h0M344.1 124.1h0M362.2 119.7h0M331.8 135.8h0M356.7 128.8h0M362.1 119.8h0M356.5 119.0h0M350.1 121.1h0M362.1 119.8h0M342.2 137.7h0M352.9 120.0h0M351.9 120.3h0M349.9 121.1h0M354.1 119.6h0M351.8 120.4h0M334.2 131.6h0M332.1 137.8h0M340.1 126.7h0M346.5 122.9h0M362.1 120.4h0M358.1 119.0h0M339.5 127.2h0M341.4 137.9h0M362.1 120.7h0M351.7 120.6h0M350.1 121.2h0M342.1 125.6h0M361.5 123.3h0M336.5 129.5h0M361.8 122.7h0M353.3 120.0h0M360.4 119.4h0M341.2 137.9h0M344.5 124.1h0M352.8 120.2h0M358.9 119.2h0M356.1 129.0h0M358.7 119.2h0M344.9 123.9h0M360.8 124.3h0M362.0 121.3h0M361.9 120.8h0M361.8 122.4h0M351.0 120.9h0"/><path stroke="#fece7f" d="M360.4 124.8h0M358.0 119.2h0M337.3 139.1h0M332.8 138.4h0M361.8 122.3h0M353.9 130.6h0M332.2 137.0h0M355.8 119.5h0M355.9 119.5h0M345.1 123.9h0M334.3 139.1h0M332.2 136.4h0M347.2 134.8h0M334.9 139.2h0M360.4 119.8h0M342.4 137.3h0M332.8 138.2h0M337.6 128.8h0M359.0 119.5h0M332.3 135.9h0M357.9 119.4h0M336.5 139.1h0M332.8 134.3h0M357.3 127.7h0M349.1 133.6h0M359.7 125.4h0M341.7 126.0h0M355.1 119.9h0M345.9 135.5h0M356.7 128.2h0M344.0 124.6h0M338.4 138.7h0M361.5 121.6h0M337.7 128.8h0M353.2 130.9h0M361.1 120.7h0M348.0 134.2h0M336.9 129.5h0M342.0 137.4h0M332.9 137.9h0M350.2 121.5h0M333.1 134.0h0M354.2 130.2h0M345.7 123.7h0M355.4 119.9h0M338.4 138.6h0M349.0 122.1h0M359.9 124.8h0M344.6 124.4h0M355.9 128.7h0M359.6 120.0h0M360.9 121.1h0M355.1 120.1h0M348.4 122.5h0M334.2 138.7h0M349.5 122.0h0"/><path stroke="#fdc374" d="M355.1 120.1h0M332.7 135.8h0M356.6 119.9h0M355.9 120.0h0M351.4 132.0h0M337.5 129.2h0M340.7 126.9h0M338.5 128.4h0M338.5 128.4h0M341.5 137.5h0M355.3 129.1h0M353.9 120.5h0M348.1 122.7h0M359.8 120.5h0M353.5 120.6h0M352.7 120.9h0M359.4 120.4h0M333.1 137.7h0M349.9 121.9h0M339.6 138.1h0M350.4 132.6h0M335.1 138.7h0M356.1 120.2h0M352.9 130.8h0M346.7 123.5h0M333.4 134.0h0M357.2 127.3h0M334.5 132.3h0M348.4 133.8h0M333.6 133.7h0M345.5 135.4h0M340.5 127.1h0M358.4 126.1h0M340.7 127.1h0M352.5 131.1h0M352.9 130.8h0M333.1 135.4h0M358.0 120.3h0M339.7 138.0h0M352.6 131.0h0M341.6 137.3h0M335.2 131.7h0M333.4 134.5h0M336.8 138.6h0M357.0 120.4h0M342.0 126.3h0M359.7 124.0h0"/><path stroke="#fdb96b" d="M354.7 120.7h0M341.5 137.3h0M350.0 132.6h0M338.6 138.2h0M359.1 124.9h0M343.6 125.4h0M351.1 121.7h0M358.3 120.7h0M347.3 123.4h0M351.5 131.6h0M335.6 131.3h0M359.5 121.4h0M351.4 121.7h0M333.8 137.7h0M358.4 120.9h0M358.5 120.9h0M333.8 137.7h0M352.7 121.3h0M359.8 122.4h0M338.7 138.1h0M347.7 133.9h0M358.7 125.1h0M344.0 125.3h0M347.4 134.1h0M351.1 121.9h0M357.3 120.9h0M334.0 137.6h0M335.2 132.1h0M345.4 124.6h0M334.9 138.1h0M336.9 130.3h0M355.6 128.2h0M339.0 137.9h0M341.9 136.9h0M346.3 124.1h0M334.9 138.1h0M357.2 126.7h0M349.4 122.7h0M358.4 121.4h0M343.1 126.0h0M356.9 121.1h0M354.1 129.4h0M344.5 135.6h0M344.7 125.1h0"/><path stroke="#fdaf62" d="M334.9 138.0h0M358.6 121.8h0M334.7 133.0h0M341.3 137.0h0M345.0 125.0h0M353.5 121.5h0M349.7 122.7h0M341.0 137.1h0M348.8 123.1h0M358.9 123.7h0M352.1 121.9h0M343.8 125.7h0M347.9 133.6h0M353.4 121.6h0M352.9 130.2h0M350.9 122.3h0M333.8 136.0h0M357.9 121.7h0M356.0 127.6h0M358.5 124.5h0M355.3 121.3h0M358.3 122.0h0M352.9 121.7h0M337.2 138.0h0M355.9 127.6h0M334.4 137.3h0M353.8 129.5h0M358.8 123.4h0M353.5 121.6h0M338.4 137.8h0M339.2 137.6h0M353.5 121.7h0M340.9 127.6h0M337.6 130.0h0M355.7 121.4h0M358.3 124.5h0M340.8 137.1h0M343.5 126.0h0M358.5 122.6h0M349.2 132.7h0M337.9 129.8h0M349.3 123.1h0M358.6 123.0h0M358.5 123.0h0M343.5 135.9h0M357.3 121.9h0M336.2 137.9h0M342.6 136.3h0M353.5 121.9h0M343.8 125.9h0"/><path stroke="#fba05b" d="M358.1 124.3h0M349.9 123.0h0M342.1 127.0h0M355.6 121.8h0M346.8 124.4h0M356.6 126.4h0M337.1 130.8h0M348.5 132.9h0M357.8 124.6h0M349.0 132.6h0M334.5 136.6h0M338.5 129.5h0M337.9 137.6h0M355.4 127.6h0M336.1 132.0h0M342.8 136.0h0M356.0 127.0h0M350.3 131.7h0M356.9 125.9h0M336.2 131.9h0M357.8 124.0h0M348.5 132.8h0M334.5 135.1h0M340.7 136.8h0M357.2 122.8h0M341.8 136.4h0M334.8 134.4h0M349.4 132.2h0M338.9 129.4h0M353.0 122.4h0M347.3 133.5h0M357.0 122.8h0M354.8 122.3h0M341.9 136.3h0"/><path stroke="#f99355" d="M342.7 135.9h0M348.2 132.9h0M352.9 129.6h0M334.9 136.2h0M341.4 136.5h0M335.5 133.3h0M347.2 124.5h0M335.1 136.6h0M340.5 136.8h0M338.2 137.3h0M341.3 136.5h0M341.3 127.9h0M354.4 128.1h0M348.3 124.1h0M347.2 133.4h0M356.4 125.8h0M352.5 129.7h0M335.8 136.9h0M351.8 130.3h0M336.4 132.2h0M344.6 126.0h0M335.1 135.4h0M354.8 122.8h0M349.4 123.8h0M336.4 132.2h0M336.5 137.1h0M356.5 123.6h0M336.1 132.8h0M356.6 124.1h0M335.2 135.0h0M348.4 124.3h0M356.2 125.5h0M353.8 128.4h0M351.4 123.3h0M335.9 133.1h0M345.4 134.3h0"/><path stroke="#f8864f" d="M337.0 137.1h0M345.6 125.6h0M352.6 123.0h0M344.9 134.6h0M338.6 137.0h0M349.0 124.1h0M341.4 136.2h0M336.7 137.0h0M350.9 123.5h0M356.2 125.4h0M353.5 123.0h0M336.0 133.1h0M336.5 132.4h0M353.5 128.6h0M353.4 123.0h0M353.4 123.0h0M336.5 136.9h0M337.4 137.0h0M338.8 136.9h0M338.4 130.3h0M347.0 125.0h0M348.7 124.3h0M340.2 136.6h0M354.8 127.2h0M356.2 124.9h0M352.4 123.3h0M337.5 131.3h0M356.2 124.6h0M347.7 132.8h0M345.9 133.9h0M345.8 125.7h0M341.9 135.9h0M343.8 135.0h0M352.7 129.1h0M351.9 123.4h0M351.4 123.5h0M356.0 124.6h0M350.1 131.2h0M349.1 124.3h0M352.2 123.4h0M337.9 131.1h0M342.2 127.8h0M355.3 123.7h0M355.0 123.6h0M338.0 136.8h0M353.1 128.7h0M352.9 123.4h0M355.6 125.6h0M355.5 125.7h0M335.9 135.8h0M345.3 134.1h0M354.9 126.7h0M347.4 125.1h0M355.2 123.9h0"/><path stroke="#f57748" d="M355.5 124.4h0M355.5 125.1h0M340.0 129.4h0M336.5 133.0h0M343.1 135.1h0M350.0 124.3h0M345.2 134.0h0M354.7 124.2h0M354.7 124.3h0M345.0 126.5h0M354.9 126.0h0M348.9 124.7h0M346.4 125.8h0M350.7 124.2h0M345.8 133.6h0M336.5 135.8h0M353.4 124.0h0M342.4 135.4h0M336.9 136.1h0M350.8 130.2h0M354.8 124.8h0M346.7 125.7h0M348.2 132.1h0M336.5 133.9h0M352.3 128.9h0M352.0 129.2h0M354.7 125.5h0"/><path stroke="#f36b42" d="M341.9 128.4h0M345.8 126.2h0M351.9 124.2h0M342.2 135.4h0M340.8 135.8h0M354.5 125.0h0M343.0 127.8h0M336.5 134.5h0M347.5 132.4h0M353.5 127.5h0M341.8 128.6h0M336.6 134.8h0M349.6 124.8h0M353.9 124.7h0M342.9 134.9h0M350.3 130.3h0M354.0 126.5h0M353.9 124.9h0M352.4 128.5h0M339.0 130.8h0M354.1 125.3h0M340.2 135.9h0M349.2 131.1h0M342.1 128.5h0M353.3 127.4h0M340.1 129.9h0M336.8 134.7h0M346.9 126.0h0M354.0 125.5h0M337.1 133.6h0M353.9 126.0h0M353.5 125.1h0M345.3 133.6h0M353.8 126.4h0"/><path stroke="#ed5f3c" d="M337.8 132.4h0M337.4 135.6h0M337.0 134.5h0M341.0 135.5h0M338.4 135.9h0M353.5 126.6h0M340.9 135.5h0M340.0 135.8h0M343.6 134.5h0M352.4 124.9h0M348.1 125.6h0M353.3 126.8h0M352.4 124.9h0M337.8 132.6h0M348.6 125.6h0M348.9 125.5h0M352.6 125.1h0M343.2 128.1h0M346.6 132.6h0M351.2 129.2h0M348.3 125.7h0M348.4 125.7h0M349.6 130.5h0M337.5 133.4h0M351.8 125.2h0M340.4 130.1h0M337.5 135.0h0M353.1 126.1h0"/><path stroke="#e65036" d="M346.8 132.3h0M342.3 128.8h0M352.7 126.1h0M342.3 134.7h0M344.0 134.0h0M352.3 127.6h0M350.4 125.6h0M347.7 131.7h0M344.3 127.8h0M346.8 126.6h0M337.9 134.4h0M347.9 131.5h0M350.2 129.6h0M344.6 127.7h0M352.3 126.6h0M339.5 131.3h0M343.1 128.6h0M343.3 128.5h0M345.4 127.3h0M351.4 125.8h0M346.4 132.4h0M342.5 129.0h0M344.9 127.7h0M348.4 126.2h0M351.8 126.2h0M339.7 131.1h0M342.7 134.4h0M350.4 129.3h0M342.2 129.2h0"/><path stroke="#e14430" d="M344.9 133.2h0M340.1 130.8h0M348.2 126.4h0M349.8 129.8h0M342.1 134.6h0M340.4 135.1h0M343.7 128.4h0M344.7 127.8h0M349.4 130.1h0M338.7 134.8h0M351.6 127.3h0M346.5 132.2h0M349.3 126.3h0M351.1 126.4h0M340.1 131.1h0M348.9 130.4h0M340.8 130.4h0M340.4 134.8h0M351.1 127.9h0M350.8 126.7h0M348.0 126.8h0M339.6 134.8h0M338.8 133.0h0"/><path stroke="#db382b" d="M341.3 134.6h0M349.2 126.6h0M350.7 126.8h0M349.4 126.6h0M345.8 127.7h0M344.7 128.2h0M339.5 132.1h0M350.7 127.0h0M341.5 130.1h0M342.7 134.0h0M344.4 128.4h0M349.3 129.6h0M339.7 131.9h0M339.4 132.4h0M339.1 134.0h0M343.6 133.5h0M346.4 127.6h0M348.2 130.5h0M347.1 127.4h0M350.2 127.3h0M349.0 129.7h0M341.3 130.5h0M345.4 128.1h0M344.9 128.4h0"/><path stroke="#d22b27" d="M345.5 132.3h0M341.8 130.2h0M340.1 131.8h0M340.1 131.8h0M345.5 132.2h0M349.6 127.4h0M349.9 127.8h0M339.6 133.6h0M349.5 127.6h0M347.5 130.8h0M348.0 127.5h0M342.0 133.9h0M349.6 127.9h0M342.1 133.9h0M340.0 134.0h0M348.9 127.5h0M347.9 127.6h0M342.1 133.9h0M342.8 129.8h0M344.7 128.8h0M348.9 129.1h0"/><path stroke="#c82227" d="M347.6 127.9h0M348.0 127.9h0M344.0 129.3h0M344.9 128.9h0M346.7 131.1h0M348.7 128.3h0M340.3 133.2h0M341.3 131.2h0M346.4 128.4h0M347.3 130.5h0M346.2 128.5h0M348.1 128.4h0M343.3 133.1h0M340.8 132.0h0M348.1 128.6h0M340.7 133.2h0"/><path stroke="#be1827" d="M341.8 133.4h0M347.6 128.6h0M347.6 128.6h0M347.7 129.6h0M341.1 132.0h0M342.4 130.7h0M340.8 132.7h0M341.0 132.2h0M345.2 131.7h0M345.1 131.8h0M347.2 130.1h0M343.9 132.5h0M346.3 130.8h0M341.2 132.2h0M341.2 133.0h0M343.2 130.3h0M346.3 130.8h0M342.5 133.0h0M344.8 129.6h0M346.4 129.2h0M342.3 131.1h0M345.7 129.4h0"/><path stroke="#b30d26" d="M346.7 129.4h0M341.6 132.3h0M346.5 129.5h0M346.1 129.5h0M341.9 131.8h0M346.0 129.6h0M342.8 130.9h0M342.1 131.7h0M342.5 131.3h0M346.3 130.0h0M344.3 130.2h0M345.9 130.6h0M346.2 130.2h0M345.0 130.0h0M343.7 132.2h0M345.8 130.5h0M345.2 131.1h0M343.7 132.1h0M345.7 130.4h0"/><path stroke="#a90426" d="M345.1 131.1h0M342.4 132.0h0M342.8 131.5h0M344.8 131.1h0M344.8 130.7h0M342.9 131.9h0M343.9 131.6h0M343.8 131.4h0"/></g><line x1="285.10" y1="189.00" x2="462.40" y2="9.50" stroke="#f42424" stroke-width="1.5" stroke-dasharray="5.0 2.2"/><rect x="285.10" y="9.50" width="177.30" height="179.50" fill="none" stroke="#6a6a6a" stroke-width="1"/><text x="280.50" y="14.10" font-size="13" text-anchor="end">200</text><text x="280.50" y="50.00" font-size="13" text-anchor="end">150</text><text x="280.50" y="85.90" font-size="13" text-anchor="end">100</text><text x="280.50" y="121.80" font-size="13" text-anchor="end">50</text><text x="280.50" y="157.70" font-size="13" text-anchor="end">0</text><text x="280.50" y="193.60" font-size="13" text-anchor="end">-50</text><text x="320.56" y="203.80" font-size="13" text-anchor="middle">0</text><text x="391.48" y="203.80" font-size="13" text-anchor="middle">100</text><text x="462.40" y="203.80" font-size="13" text-anchor="middle">200</text><path d="M281.70 9.50H285.10M281.70 45.40H285.10M281.70 81.30H285.10M281.70 117.20H285.10M281.70 153.10H285.10M281.70 189.00H285.10M320.56 189.00V192.40M391.48 189.00V192.40M462.40 189.00V192.40" stroke="#6a6a6a" stroke-width="1" fill="none"/><text x="289.30" y="22.20" font-size="15.2">RMSE=22.64</text><text x="289.30" y="38.10" font-size="15.2">MBE=-8.63</text><text x="289.30" y="54.10" font-size="15.2">MAE=17.25</text><text x="289.30" y="70.00" font-size="15.2">R</text><text x="299.40" y="65.70" font-size="10">2</text><text x="304.90" y="70.00" font-size="15.2">=0.33</text><text x="289.30" y="86.00" font-size="15.2">N=3217</text><text x="461.20" y="183.90" font-size="15.2" text-anchor="end">FLUXCOM</text><text x="302.90" y="221.90" font-size="15.6">In-situ</text><text x="346.90" y="221.90" font-size="16.2" font-style="italic">H</text><text x="361.30" y="216.40" font-size="10.2" font-style="italic">corr</text><text x="359.60" y="226.00" font-size="10.7">8</text><rect x="367.10" y="222.9" width="6.6" height="0.9" fill="#000"/><text x="374.90" y="225.60" font-size="10.4" font-style="italic">day</text><text x="396.90" y="221.90" font-size="16.2">(W/m</text><text x="433.30" y="216.30" font-size="10.5">2</text><text x="439.20" y="221.90" font-size="16.2">)</text><text transform="translate(255.60 100.3) rotate(-90)" text-anchor="middle" font-size="15.6">H from FLUXCOM <tspan font-size="16.2">(W/m</tspan><tspan font-size="10.5" dy="-5.6">2</tspan><tspan font-size="16.2" dy="5.6">)</tspan></text><rect x="470.10" y="9.60" width="4.80" height="179.50" fill="url(#cb)"/><text x="478.20" y="193.70" font-size="13">0.0</text><text x="478.20" y="157.80" font-size="13">0.2</text><text x="478.20" y="121.90" font-size="13">0.4</text><text x="478.20" y="86.00" font-size="13">0.6</text><text x="478.20" y="50.10" font-size="13">0.8</text><text x="478.20" y="14.20" font-size="13">1.0</text><path d="M474.90 189.10H477.50M474.90 153.20H477.50M474.90 117.30H477.50M474.90 81.40H477.50M474.90 45.50H477.50M474.90 9.60H477.50" stroke="#6a6a6a" stroke-width="1"/></svg></body></html>
